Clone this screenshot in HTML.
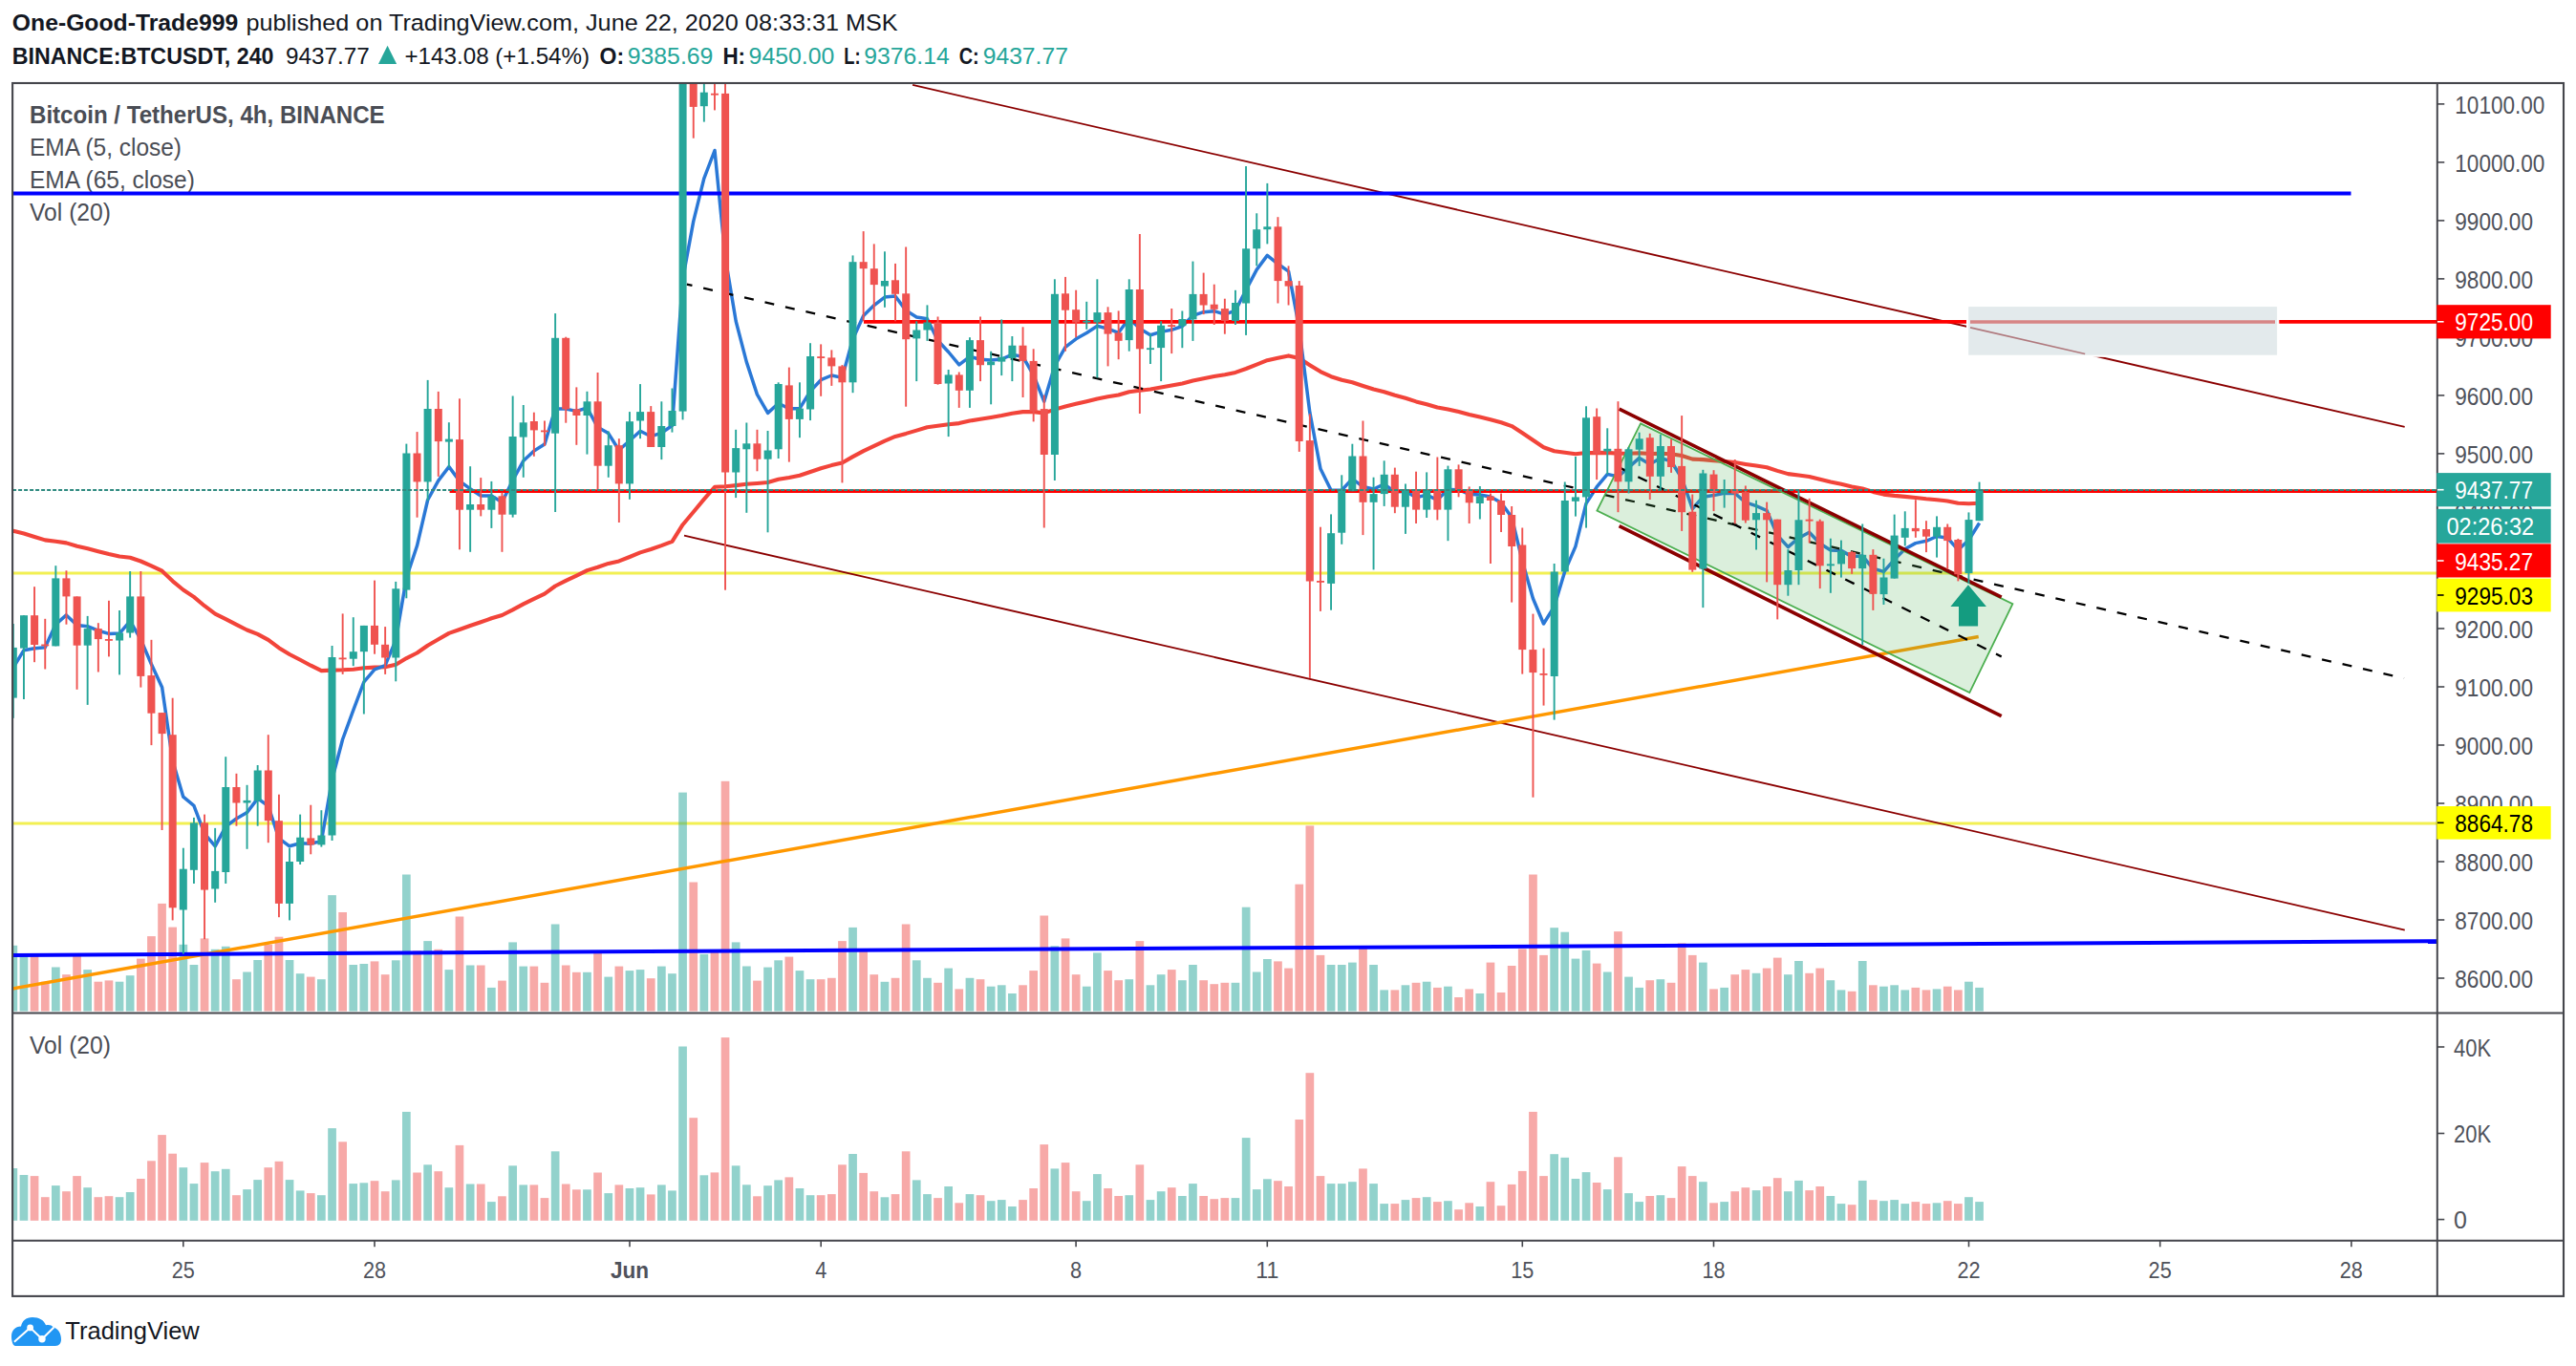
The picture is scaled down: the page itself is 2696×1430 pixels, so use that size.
<!DOCTYPE html>
<html><head><meta charset="utf-8"><title>BTCUSDT chart</title>
<style>html,body{margin:0;padding:0;background:#fff;}svg{display:block;}</style></head><body>
<svg width="2696" height="1430" viewBox="0 0 2696 1430" font-family="'Liberation Sans', Arial, sans-serif">
<rect x="0" y="0" width="2696" height="1430" fill="#ffffff"/>
<defs>
<clipPath id="cm"><rect x="13.85" y="87.75" width="2536.2000000000003" height="972.0"/></clipPath>
<clipPath id="cv"><rect x="13.85" y="1061.25" width="2536.2000000000003" height="236.79999999999995"/></clipPath>
</defs>
<text x="12.8" y="32.1" font-size="24.5" fill="#131722" font-weight="bold" text-anchor="start" textLength="236.4" lengthAdjust="spacingAndGlyphs">One-Good-Trade999</text>
<text x="257.4" y="32.1" font-size="24.5" fill="#131722" font-weight="normal" text-anchor="start" textLength="682.3" lengthAdjust="spacingAndGlyphs">published on TradingView.com, June 22, 2020 08:33:31 MSK</text>
<text x="12.8" y="66.9" font-size="24.5" fill="#131722" font-weight="bold" text-anchor="start" textLength="273.7" lengthAdjust="spacingAndGlyphs">BINANCE:BTCUSDT, 240</text>
<text x="298.9" y="66.9" font-size="24.5" fill="#131722" font-weight="normal" text-anchor="start" textLength="87.8" lengthAdjust="spacingAndGlyphs">9437.77</text>
<polygon points="396,66.9 415.1,66.9 405.55,47.8" fill="#26a69a"/>
<text x="423.5" y="66.9" font-size="24.5" fill="#131722" font-weight="normal" text-anchor="start" textLength="193.6" lengthAdjust="spacingAndGlyphs">+143.08 (+1.54%)</text>
<text x="627.6" y="66.9" font-size="24.5" fill="#131722" font-weight="bold" text-anchor="start" textLength="25.6" lengthAdjust="spacingAndGlyphs">O:</text>
<text x="656.7" y="66.9" font-size="24.5" fill="#26a69a" font-weight="normal" text-anchor="start" textLength="89.7" lengthAdjust="spacingAndGlyphs">9385.69</text>
<text x="756.4" y="66.9" font-size="24.5" fill="#131722" font-weight="bold" text-anchor="start" textLength="23.7" lengthAdjust="spacingAndGlyphs">H:</text>
<text x="783.6" y="66.9" font-size="24.5" fill="#26a69a" font-weight="normal" text-anchor="start" textLength="89.7" lengthAdjust="spacingAndGlyphs">9450.00</text>
<text x="883.3" y="66.9" font-size="24.5" fill="#131722" font-weight="bold" text-anchor="start" textLength="17.3" lengthAdjust="spacingAndGlyphs">L:</text>
<text x="904.3" y="66.9" font-size="24.5" fill="#26a69a" font-weight="normal" text-anchor="start" textLength="89.4" lengthAdjust="spacingAndGlyphs">9376.14</text>
<text x="1003.7" y="66.9" font-size="24.5" fill="#131722" font-weight="bold" text-anchor="start" textLength="21.0" lengthAdjust="spacingAndGlyphs">C:</text>
<text x="1028.7" y="66.9" font-size="24.5" fill="#26a69a" font-weight="normal" text-anchor="start" textLength="89.2" lengthAdjust="spacingAndGlyphs">9437.77</text>
<g clip-path="url(#cm)">
<text x="31.0" y="129.1" font-size="25.5" fill="#4a4d55" font-weight="bold" text-anchor="start" textLength="371.7" lengthAdjust="spacingAndGlyphs">Bitcoin / TetherUS, 4h, BINANCE</text>
<text x="31.0" y="162.9" font-size="25.5" fill="#4a4d55" font-weight="normal" text-anchor="start" textLength="159.0" lengthAdjust="spacingAndGlyphs">EMA (5, close)</text>
<text x="31.0" y="196.8" font-size="25.5" fill="#4a4d55" font-weight="normal" text-anchor="start" textLength="172.8" lengthAdjust="spacingAndGlyphs">EMA (65, close)</text>
<text x="31.0" y="230.6" font-size="25.5" fill="#4a4d55" font-weight="normal" text-anchor="start" textLength="85.0" lengthAdjust="spacingAndGlyphs">Vol (20)</text>
<line x1="13.1" y1="600" x2="2550.8" y2="600" stroke="#f2f052" stroke-width="3"/>
<line x1="13.1" y1="862" x2="2550.8" y2="862" stroke="#f2f052" stroke-width="3"/>
<rect x="9.5" y="989.8" width="8.7" height="68.8" fill="rgba(38,166,154,0.5)"/>
<rect x="20.6" y="998.6" width="8.7" height="60.0" fill="rgba(38,166,154,0.5)"/>
<rect x="31.7" y="999.9" width="8.7" height="58.7" fill="rgba(239,83,80,0.5)"/>
<rect x="42.9" y="1027.7" width="8.7" height="30.9" fill="rgba(239,83,80,0.5)"/>
<rect x="54.0" y="1012.5" width="8.7" height="46.1" fill="rgba(38,166,154,0.5)"/>
<rect x="65.1" y="1020.2" width="8.7" height="38.4" fill="rgba(239,83,80,0.5)"/>
<rect x="76.2" y="999.9" width="8.7" height="58.7" fill="rgba(239,83,80,0.5)"/>
<rect x="87.3" y="1015.1" width="8.7" height="43.5" fill="rgba(38,166,154,0.5)"/>
<rect x="98.5" y="1027.7" width="8.7" height="30.9" fill="rgba(239,83,80,0.5)"/>
<rect x="109.6" y="1026.4" width="8.7" height="32.2" fill="rgba(239,83,80,0.5)"/>
<rect x="120.7" y="1027.7" width="8.7" height="30.9" fill="rgba(38,166,154,0.5)"/>
<rect x="131.8" y="1021.2" width="8.7" height="37.4" fill="rgba(38,166,154,0.5)"/>
<rect x="143.0" y="1003.6" width="8.7" height="55.0" fill="rgba(239,83,80,0.5)"/>
<rect x="154.1" y="980.1" width="8.7" height="78.5" fill="rgba(239,83,80,0.5)"/>
<rect x="165.2" y="945.9" width="8.7" height="112.7" fill="rgba(239,83,80,0.5)"/>
<rect x="176.3" y="970.6" width="8.7" height="88.0" fill="rgba(239,83,80,0.5)"/>
<rect x="187.5" y="988.8" width="8.7" height="69.8" fill="rgba(38,166,154,0.5)"/>
<rect x="198.6" y="1010.0" width="8.7" height="48.6" fill="rgba(38,166,154,0.5)"/>
<rect x="209.7" y="982.4" width="8.7" height="76.2" fill="rgba(239,83,80,0.5)"/>
<rect x="220.8" y="993.8" width="8.7" height="64.8" fill="rgba(38,166,154,0.5)"/>
<rect x="231.9" y="990.8" width="8.7" height="67.8" fill="rgba(38,166,154,0.5)"/>
<rect x="243.1" y="1025.2" width="8.7" height="33.4" fill="rgba(239,83,80,0.5)"/>
<rect x="254.2" y="1017.5" width="8.7" height="41.1" fill="rgba(38,166,154,0.5)"/>
<rect x="265.3" y="1005.0" width="8.7" height="53.6" fill="rgba(38,166,154,0.5)"/>
<rect x="276.4" y="988.8" width="8.7" height="69.8" fill="rgba(239,83,80,0.5)"/>
<rect x="287.6" y="980.7" width="8.7" height="77.9" fill="rgba(239,83,80,0.5)"/>
<rect x="298.7" y="1005.0" width="8.7" height="53.6" fill="rgba(38,166,154,0.5)"/>
<rect x="309.8" y="1019.2" width="8.7" height="39.4" fill="rgba(38,166,154,0.5)"/>
<rect x="320.9" y="1022.6" width="8.7" height="36.0" fill="rgba(239,83,80,0.5)"/>
<rect x="332.0" y="1025.2" width="8.7" height="33.4" fill="rgba(38,166,154,0.5)"/>
<rect x="343.2" y="937.1" width="8.7" height="121.5" fill="rgba(38,166,154,0.5)"/>
<rect x="354.3" y="955.0" width="8.7" height="103.6" fill="rgba(239,83,80,0.5)"/>
<rect x="365.4" y="1010.0" width="8.7" height="48.6" fill="rgba(38,166,154,0.5)"/>
<rect x="376.5" y="1009.0" width="8.7" height="49.6" fill="rgba(38,166,154,0.5)"/>
<rect x="387.7" y="1006.4" width="8.7" height="52.2" fill="rgba(239,83,80,0.5)"/>
<rect x="398.8" y="1020.2" width="8.7" height="38.4" fill="rgba(239,83,80,0.5)"/>
<rect x="409.9" y="1005.3" width="8.7" height="53.3" fill="rgba(38,166,154,0.5)"/>
<rect x="421.0" y="915.5" width="8.7" height="143.1" fill="rgba(38,166,154,0.5)"/>
<rect x="432.2" y="995.4" width="8.7" height="63.2" fill="rgba(239,83,80,0.5)"/>
<rect x="443.3" y="985.1" width="8.7" height="73.5" fill="rgba(38,166,154,0.5)"/>
<rect x="454.4" y="993.8" width="8.7" height="64.8" fill="rgba(239,83,80,0.5)"/>
<rect x="465.5" y="1015.1" width="8.7" height="43.5" fill="rgba(38,166,154,0.5)"/>
<rect x="476.6" y="959.5" width="8.7" height="99.1" fill="rgba(239,83,80,0.5)"/>
<rect x="487.8" y="1010.5" width="8.7" height="48.1" fill="rgba(38,166,154,0.5)"/>
<rect x="498.9" y="1010.5" width="8.7" height="48.1" fill="rgba(239,83,80,0.5)"/>
<rect x="510.0" y="1033.9" width="8.7" height="24.7" fill="rgba(38,166,154,0.5)"/>
<rect x="521.1" y="1026.6" width="8.7" height="32.0" fill="rgba(239,83,80,0.5)"/>
<rect x="532.3" y="986.4" width="8.7" height="72.2" fill="rgba(38,166,154,0.5)"/>
<rect x="543.4" y="1011.6" width="8.7" height="47.0" fill="rgba(38,166,154,0.5)"/>
<rect x="554.5" y="1011.6" width="8.7" height="47.0" fill="rgba(239,83,80,0.5)"/>
<rect x="565.6" y="1028.8" width="8.7" height="29.8" fill="rgba(239,83,80,0.5)"/>
<rect x="576.8" y="967.5" width="8.7" height="91.1" fill="rgba(38,166,154,0.5)"/>
<rect x="587.9" y="1010.5" width="8.7" height="48.1" fill="rgba(239,83,80,0.5)"/>
<rect x="599.0" y="1017.8" width="8.7" height="40.8" fill="rgba(239,83,80,0.5)"/>
<rect x="610.1" y="1017.8" width="8.7" height="40.8" fill="rgba(38,166,154,0.5)"/>
<rect x="621.2" y="995.4" width="8.7" height="63.2" fill="rgba(239,83,80,0.5)"/>
<rect x="632.4" y="1022.6" width="8.7" height="36.0" fill="rgba(38,166,154,0.5)"/>
<rect x="643.5" y="1011.6" width="8.7" height="47.0" fill="rgba(239,83,80,0.5)"/>
<rect x="654.6" y="1016.1" width="8.7" height="42.5" fill="rgba(38,166,154,0.5)"/>
<rect x="665.7" y="1015.1" width="8.7" height="43.5" fill="rgba(38,166,154,0.5)"/>
<rect x="676.9" y="1024.2" width="8.7" height="34.4" fill="rgba(239,83,80,0.5)"/>
<rect x="688.0" y="1011.6" width="8.7" height="47.0" fill="rgba(38,166,154,0.5)"/>
<rect x="699.1" y="1019.2" width="8.7" height="39.4" fill="rgba(38,166,154,0.5)"/>
<rect x="710.2" y="829.6" width="8.7" height="229.0" fill="rgba(38,166,154,0.5)"/>
<rect x="721.4" y="923.5" width="8.7" height="135.1" fill="rgba(239,83,80,0.5)"/>
<rect x="732.5" y="998.9" width="8.7" height="59.7" fill="rgba(38,166,154,0.5)"/>
<rect x="743.6" y="995.3" width="8.7" height="63.3" fill="rgba(239,83,80,0.5)"/>
<rect x="754.7" y="817.8" width="8.7" height="240.8" fill="rgba(239,83,80,0.5)"/>
<rect x="765.8" y="986.4" width="8.7" height="72.2" fill="rgba(38,166,154,0.5)"/>
<rect x="777.0" y="1011.5" width="8.7" height="47.1" fill="rgba(38,166,154,0.5)"/>
<rect x="788.1" y="1026.6" width="8.7" height="32.0" fill="rgba(239,83,80,0.5)"/>
<rect x="799.2" y="1012.6" width="8.7" height="46.0" fill="rgba(38,166,154,0.5)"/>
<rect x="810.3" y="1005.3" width="8.7" height="53.3" fill="rgba(38,166,154,0.5)"/>
<rect x="821.5" y="1001.6" width="8.7" height="57.0" fill="rgba(239,83,80,0.5)"/>
<rect x="832.6" y="1016.1" width="8.7" height="42.5" fill="rgba(38,166,154,0.5)"/>
<rect x="843.7" y="1025.2" width="8.7" height="33.4" fill="rgba(38,166,154,0.5)"/>
<rect x="854.8" y="1025.2" width="8.7" height="33.4" fill="rgba(239,83,80,0.5)"/>
<rect x="866.0" y="1023.8" width="8.7" height="34.8" fill="rgba(239,83,80,0.5)"/>
<rect x="877.1" y="985.1" width="8.7" height="73.5" fill="rgba(239,83,80,0.5)"/>
<rect x="888.2" y="970.9" width="8.7" height="87.7" fill="rgba(38,166,154,0.5)"/>
<rect x="899.3" y="995.9" width="8.7" height="62.7" fill="rgba(239,83,80,0.5)"/>
<rect x="910.4" y="1020.2" width="8.7" height="38.4" fill="rgba(239,83,80,0.5)"/>
<rect x="921.6" y="1027.8" width="8.7" height="30.8" fill="rgba(38,166,154,0.5)"/>
<rect x="932.7" y="1023.8" width="8.7" height="34.8" fill="rgba(239,83,80,0.5)"/>
<rect x="943.8" y="967.5" width="8.7" height="91.1" fill="rgba(239,83,80,0.5)"/>
<rect x="954.9" y="1005.3" width="8.7" height="53.3" fill="rgba(38,166,154,0.5)"/>
<rect x="966.1" y="1023.8" width="8.7" height="34.8" fill="rgba(38,166,154,0.5)"/>
<rect x="977.2" y="1028.8" width="8.7" height="29.8" fill="rgba(239,83,80,0.5)"/>
<rect x="988.3" y="1013.6" width="8.7" height="45.0" fill="rgba(38,166,154,0.5)"/>
<rect x="999.4" y="1035.4" width="8.7" height="23.2" fill="rgba(239,83,80,0.5)"/>
<rect x="1010.6" y="1023.8" width="8.7" height="34.8" fill="rgba(38,166,154,0.5)"/>
<rect x="1021.7" y="1025.2" width="8.7" height="33.4" fill="rgba(239,83,80,0.5)"/>
<rect x="1032.8" y="1032.7" width="8.7" height="25.9" fill="rgba(38,166,154,0.5)"/>
<rect x="1043.9" y="1031.3" width="8.7" height="27.3" fill="rgba(38,166,154,0.5)"/>
<rect x="1055.0" y="1040.0" width="8.7" height="18.6" fill="rgba(38,166,154,0.5)"/>
<rect x="1066.2" y="1031.3" width="8.7" height="27.3" fill="rgba(239,83,80,0.5)"/>
<rect x="1077.3" y="1016.1" width="8.7" height="42.5" fill="rgba(239,83,80,0.5)"/>
<rect x="1088.4" y="958.5" width="8.7" height="100.1" fill="rgba(239,83,80,0.5)"/>
<rect x="1099.5" y="990.3" width="8.7" height="68.3" fill="rgba(38,166,154,0.5)"/>
<rect x="1110.7" y="982.4" width="8.7" height="76.2" fill="rgba(239,83,80,0.5)"/>
<rect x="1121.8" y="1020.2" width="8.7" height="38.4" fill="rgba(239,83,80,0.5)"/>
<rect x="1132.9" y="1032.7" width="8.7" height="25.9" fill="rgba(38,166,154,0.5)"/>
<rect x="1144.0" y="997.4" width="8.7" height="61.2" fill="rgba(38,166,154,0.5)"/>
<rect x="1155.2" y="1016.1" width="8.7" height="42.5" fill="rgba(239,83,80,0.5)"/>
<rect x="1166.3" y="1026.2" width="8.7" height="32.4" fill="rgba(239,83,80,0.5)"/>
<rect x="1177.4" y="1025.2" width="8.7" height="33.4" fill="rgba(38,166,154,0.5)"/>
<rect x="1188.5" y="985.1" width="8.7" height="73.5" fill="rgba(239,83,80,0.5)"/>
<rect x="1199.6" y="1031.3" width="8.7" height="27.3" fill="rgba(38,166,154,0.5)"/>
<rect x="1210.8" y="1020.2" width="8.7" height="38.4" fill="rgba(38,166,154,0.5)"/>
<rect x="1221.9" y="1015.1" width="8.7" height="43.5" fill="rgba(239,83,80,0.5)"/>
<rect x="1233.0" y="1026.2" width="8.7" height="32.4" fill="rgba(38,166,154,0.5)"/>
<rect x="1244.1" y="1010.0" width="8.7" height="48.6" fill="rgba(38,166,154,0.5)"/>
<rect x="1255.3" y="1026.2" width="8.7" height="32.4" fill="rgba(239,83,80,0.5)"/>
<rect x="1266.4" y="1030.2" width="8.7" height="28.4" fill="rgba(239,83,80,0.5)"/>
<rect x="1277.5" y="1028.8" width="8.7" height="29.8" fill="rgba(239,83,80,0.5)"/>
<rect x="1288.6" y="1028.8" width="8.7" height="29.8" fill="rgba(38,166,154,0.5)"/>
<rect x="1299.8" y="949.7" width="8.7" height="108.9" fill="rgba(38,166,154,0.5)"/>
<rect x="1310.9" y="1017.5" width="8.7" height="41.1" fill="rgba(38,166,154,0.5)"/>
<rect x="1322.0" y="1004.0" width="8.7" height="54.6" fill="rgba(38,166,154,0.5)"/>
<rect x="1333.1" y="1006.4" width="8.7" height="52.2" fill="rgba(239,83,80,0.5)"/>
<rect x="1344.2" y="1013.6" width="8.7" height="45.0" fill="rgba(239,83,80,0.5)"/>
<rect x="1355.4" y="925.7" width="8.7" height="132.9" fill="rgba(239,83,80,0.5)"/>
<rect x="1366.5" y="864.4" width="8.7" height="194.2" fill="rgba(239,83,80,0.5)"/>
<rect x="1377.6" y="999.9" width="8.7" height="58.7" fill="rgba(239,83,80,0.5)"/>
<rect x="1388.7" y="1010.0" width="8.7" height="48.6" fill="rgba(38,166,154,0.5)"/>
<rect x="1399.9" y="1010.0" width="8.7" height="48.6" fill="rgba(38,166,154,0.5)"/>
<rect x="1411.0" y="1007.6" width="8.7" height="51.0" fill="rgba(38,166,154,0.5)"/>
<rect x="1422.1" y="990.3" width="8.7" height="68.3" fill="rgba(239,83,80,0.5)"/>
<rect x="1433.2" y="1010.0" width="8.7" height="48.6" fill="rgba(38,166,154,0.5)"/>
<rect x="1444.3" y="1036.4" width="8.7" height="22.2" fill="rgba(38,166,154,0.5)"/>
<rect x="1455.5" y="1036.4" width="8.7" height="22.2" fill="rgba(239,83,80,0.5)"/>
<rect x="1466.6" y="1031.3" width="8.7" height="27.3" fill="rgba(38,166,154,0.5)"/>
<rect x="1477.7" y="1028.8" width="8.7" height="29.8" fill="rgba(239,83,80,0.5)"/>
<rect x="1488.8" y="1027.7" width="8.7" height="30.9" fill="rgba(38,166,154,0.5)"/>
<rect x="1500.0" y="1033.9" width="8.7" height="24.7" fill="rgba(239,83,80,0.5)"/>
<rect x="1511.1" y="1032.7" width="8.7" height="25.9" fill="rgba(38,166,154,0.5)"/>
<rect x="1522.2" y="1044.0" width="8.7" height="14.6" fill="rgba(239,83,80,0.5)"/>
<rect x="1533.3" y="1035.4" width="8.7" height="23.2" fill="rgba(239,83,80,0.5)"/>
<rect x="1544.5" y="1040.0" width="8.7" height="18.6" fill="rgba(38,166,154,0.5)"/>
<rect x="1555.6" y="1007.6" width="8.7" height="51.0" fill="rgba(239,83,80,0.5)"/>
<rect x="1566.7" y="1039.0" width="8.7" height="19.6" fill="rgba(239,83,80,0.5)"/>
<rect x="1577.8" y="1011.0" width="8.7" height="47.6" fill="rgba(239,83,80,0.5)"/>
<rect x="1588.9" y="993.4" width="8.7" height="65.2" fill="rgba(239,83,80,0.5)"/>
<rect x="1600.1" y="915.5" width="8.7" height="143.1" fill="rgba(239,83,80,0.5)"/>
<rect x="1611.2" y="999.9" width="8.7" height="58.7" fill="rgba(239,83,80,0.5)"/>
<rect x="1622.3" y="971.2" width="8.7" height="87.4" fill="rgba(38,166,154,0.5)"/>
<rect x="1633.4" y="975.7" width="8.7" height="82.9" fill="rgba(38,166,154,0.5)"/>
<rect x="1644.6" y="1003.6" width="8.7" height="55.0" fill="rgba(38,166,154,0.5)"/>
<rect x="1655.7" y="994.9" width="8.7" height="63.7" fill="rgba(38,166,154,0.5)"/>
<rect x="1666.8" y="1008.6" width="8.7" height="50.0" fill="rgba(239,83,80,0.5)"/>
<rect x="1677.9" y="1017.5" width="8.7" height="41.1" fill="rgba(38,166,154,0.5)"/>
<rect x="1689.1" y="975.1" width="8.7" height="83.5" fill="rgba(239,83,80,0.5)"/>
<rect x="1700.2" y="1022.6" width="8.7" height="36.0" fill="rgba(38,166,154,0.5)"/>
<rect x="1711.3" y="1033.9" width="8.7" height="24.7" fill="rgba(38,166,154,0.5)"/>
<rect x="1722.4" y="1026.2" width="8.7" height="32.4" fill="rgba(239,83,80,0.5)"/>
<rect x="1733.5" y="1025.2" width="8.7" height="33.4" fill="rgba(38,166,154,0.5)"/>
<rect x="1744.7" y="1028.8" width="8.7" height="29.8" fill="rgba(239,83,80,0.5)"/>
<rect x="1755.8" y="987.4" width="8.7" height="71.2" fill="rgba(239,83,80,0.5)"/>
<rect x="1766.9" y="999.9" width="8.7" height="58.7" fill="rgba(239,83,80,0.5)"/>
<rect x="1778.0" y="1007.6" width="8.7" height="51.0" fill="rgba(38,166,154,0.5)"/>
<rect x="1789.2" y="1035.4" width="8.7" height="23.2" fill="rgba(239,83,80,0.5)"/>
<rect x="1800.3" y="1033.9" width="8.7" height="24.7" fill="rgba(38,166,154,0.5)"/>
<rect x="1811.4" y="1020.2" width="8.7" height="38.4" fill="rgba(239,83,80,0.5)"/>
<rect x="1822.5" y="1015.1" width="8.7" height="43.5" fill="rgba(239,83,80,0.5)"/>
<rect x="1833.7" y="1018.8" width="8.7" height="39.8" fill="rgba(38,166,154,0.5)"/>
<rect x="1844.8" y="1013.6" width="8.7" height="45.0" fill="rgba(239,83,80,0.5)"/>
<rect x="1855.9" y="1002.6" width="8.7" height="56.0" fill="rgba(239,83,80,0.5)"/>
<rect x="1867.0" y="1020.2" width="8.7" height="38.4" fill="rgba(38,166,154,0.5)"/>
<rect x="1878.1" y="1006.0" width="8.7" height="52.6" fill="rgba(38,166,154,0.5)"/>
<rect x="1889.3" y="1018.8" width="8.7" height="39.8" fill="rgba(239,83,80,0.5)"/>
<rect x="1900.4" y="1013.6" width="8.7" height="45.0" fill="rgba(239,83,80,0.5)"/>
<rect x="1911.5" y="1026.2" width="8.7" height="32.4" fill="rgba(38,166,154,0.5)"/>
<rect x="1922.6" y="1036.4" width="8.7" height="22.2" fill="rgba(38,166,154,0.5)"/>
<rect x="1933.8" y="1037.8" width="8.7" height="20.8" fill="rgba(239,83,80,0.5)"/>
<rect x="1944.9" y="1006.0" width="8.7" height="52.6" fill="rgba(38,166,154,0.5)"/>
<rect x="1956.0" y="1031.3" width="8.7" height="27.3" fill="rgba(239,83,80,0.5)"/>
<rect x="1967.1" y="1032.7" width="8.7" height="25.9" fill="rgba(38,166,154,0.5)"/>
<rect x="1978.3" y="1031.3" width="8.7" height="27.3" fill="rgba(38,166,154,0.5)"/>
<rect x="1989.4" y="1036.4" width="8.7" height="22.2" fill="rgba(38,166,154,0.5)"/>
<rect x="2000.5" y="1033.9" width="8.7" height="24.7" fill="rgba(239,83,80,0.5)"/>
<rect x="2011.6" y="1036.4" width="8.7" height="22.2" fill="rgba(239,83,80,0.5)"/>
<rect x="2022.7" y="1035.4" width="8.7" height="23.2" fill="rgba(38,166,154,0.5)"/>
<rect x="2033.9" y="1032.7" width="8.7" height="25.9" fill="rgba(239,83,80,0.5)"/>
<rect x="2045.0" y="1036.4" width="8.7" height="22.2" fill="rgba(239,83,80,0.5)"/>
<rect x="2056.1" y="1027.7" width="8.7" height="30.9" fill="rgba(38,166,154,0.5)"/>
<rect x="2067.2" y="1033.9" width="8.7" height="24.7" fill="rgba(38,166,154,0.5)"/>
<polyline points="13.8,555.8 25.0,558.5 36.1,562.0 47.2,565.4 58.3,566.7 69.4,568.4 80.6,571.7 91.7,574.3 102.8,577.2 113.9,580.0 125.1,582.5 136.2,583.7 147.3,587.5 158.4,592.3 169.6,597.7 180.7,608.3 191.8,617.5 202.9,624.9 214.0,634.2 225.2,642.6 236.3,648.1 247.4,653.9 258.5,659.5 269.7,663.9 280.8,669.9 291.9,678.2 303.0,685.0 314.2,690.8 325.3,696.7 336.4,702.1 347.5,701.6 358.6,701.3 369.8,700.7 380.9,699.3 392.0,698.6 403.1,698.3 414.3,695.8 425.4,689.1 436.5,683.5 447.6,675.7 458.8,669.3 469.9,662.9 481.0,659.0 492.1,655.0 503.2,651.3 514.4,647.3 525.5,644.0 536.6,638.4 547.7,632.4 558.9,626.9 570.0,621.6 581.1,613.5 592.2,607.9 603.4,602.6 614.5,597.1 625.6,593.8 636.7,589.9 647.8,587.4 659.0,583.0 670.1,578.4 681.2,575.0 692.3,571.1 703.5,566.8 714.6,549.2 725.7,536.0 736.8,522.6 748.0,509.8 759.1,509.3 770.2,508.1 781.3,506.8 792.4,506.0 803.6,505.0 814.7,501.8 825.8,499.9 836.9,497.7 848.1,494.0 859.2,490.3 870.3,487.1 881.4,484.5 892.5,478.1 903.7,472.1 914.8,466.8 925.9,461.6 937.0,456.9 948.2,453.9 959.3,450.6 970.4,447.2 981.5,445.8 992.7,444.2 1003.8,443.1 1014.9,440.5 1026.0,438.7 1037.1,436.9 1048.3,435.0 1059.4,432.7 1070.5,431.1 1081.6,431.1 1092.8,432.4 1103.9,428.6 1115.0,425.5 1126.1,422.8 1137.3,420.2 1148.4,417.4 1159.5,415.3 1170.6,413.5 1181.7,410.2 1192.9,408.8 1204.0,407.5 1215.1,405.5 1226.2,403.5 1237.4,401.4 1248.5,398.6 1259.6,396.2 1270.7,394.0 1281.9,392.2 1293.0,389.9 1304.1,386.0 1315.2,381.6 1326.3,377.2 1337.5,374.7 1348.6,372.4 1359.7,375.1 1370.8,382.2 1382.0,389.1 1393.1,394.2 1404.2,397.8 1415.3,400.2 1426.5,404.0 1437.6,407.5 1448.7,410.2 1459.8,413.8 1470.9,416.8 1482.1,420.4 1493.2,423.2 1504.3,426.5 1515.4,428.5 1526.6,431.0 1537.7,433.9 1548.8,436.5 1559.9,439.2 1571.1,442.2 1582.2,446.1 1593.3,453.2 1604.4,460.8 1615.5,468.3 1626.7,472.2 1637.8,473.8 1648.9,475.2 1660.0,474.0 1671.2,474.1 1682.3,473.9 1693.4,474.8 1704.5,474.7 1715.7,474.2 1726.8,475.0 1737.9,474.7 1749.0,475.2 1760.1,477.0 1771.3,480.6 1782.4,481.1 1793.5,482.1 1804.6,483.0 1815.8,484.1 1826.9,485.9 1838.0,487.5 1849.1,489.2 1860.2,492.9 1871.4,496.1 1882.5,497.5 1893.6,499.0 1904.7,501.8 1915.9,504.5 1927.0,506.7 1938.1,509.4 1949.2,511.5 1960.4,514.9 1971.5,517.6 1982.6,518.9 1993.7,519.9 2004.8,521.0 2016.0,522.3 2027.1,523.2 2038.2,524.5 2049.3,526.8 2060.5,527.3 2071.6,526.8" fill="none" stroke="#f2443a" stroke-width="4.1" stroke-linejoin="round"/>
<polyline points="13.8,699.0 25.0,680.7 36.1,678.8 47.2,677.7 58.3,653.6 69.4,643.9 80.6,654.5 91.7,655.7 102.8,660.2 113.9,663.4 125.1,663.1 136.2,650.2 147.3,669.4 158.4,695.2 169.6,719.5 180.7,796.4 191.8,834.2 202.9,843.3 214.0,872.7 225.2,885.8 236.3,865.2 247.4,857.0 258.5,850.6 269.7,835.9 280.8,843.7 291.9,877.7 303.0,885.8 314.2,882.8 325.3,883.3 336.4,880.4 347.5,816.3 358.6,774.0 369.8,743.4 380.9,713.9 392.0,700.9 403.1,696.7 414.3,669.9 425.4,604.8 436.5,571.3 447.6,523.5 458.8,503.1 469.9,488.6 481.0,503.6 492.1,511.7 503.2,519.1 514.4,519.1 525.5,525.7 536.6,502.8 547.7,482.6 558.9,471.9 570.0,465.1 581.1,428.0 592.2,428.1 603.4,430.4 614.5,427.0 625.6,447.3 636.7,453.6 647.8,471.2 659.0,461.2 670.1,451.2 681.2,456.8 692.3,453.2 703.5,445.5 714.6,292.0 725.7,231.9 736.8,186.9 748.0,157.5 759.1,269.8 770.2,336.3 781.3,378.9 792.4,412.9 803.6,432.4 814.7,422.3 825.8,427.8 836.9,427.7 848.1,409.5 859.2,397.7 870.3,393.0 881.4,395.4 892.5,355.0 903.7,330.4 914.8,319.6 925.9,311.1 937.0,310.0 948.2,325.1 959.3,331.9 970.4,333.7 981.5,356.5 992.7,368.5 1003.8,381.9 1014.9,373.3 1026.0,376.3 1037.1,377.0 1048.3,376.0 1059.4,371.2 1070.5,373.4 1081.6,392.5 1092.8,420.3 1103.9,382.8 1115.0,363.4 1126.1,354.8 1137.3,348.5 1148.4,341.3 1159.5,344.1 1170.6,348.3 1181.7,333.2 1192.9,343.9 1204.0,350.7 1215.1,347.4 1226.2,345.3 1237.4,341.5 1248.5,330.3 1259.6,326.7 1270.7,325.7 1281.9,329.1 1293.0,325.1 1304.1,303.5 1315.2,282.4 1326.3,267.4 1337.5,276.3 1348.6,284.1 1359.7,343.4 1370.8,431.7 1382.0,490.8 1393.1,513.3 1404.2,513.2 1415.3,501.3 1426.5,509.5 1437.6,512.0 1448.7,506.9 1459.8,514.9 1470.9,514.2 1482.1,520.7 1493.2,518.1 1504.3,523.3 1515.4,512.6 1526.6,512.7 1537.7,517.3 1548.8,518.0 1559.9,520.0 1571.1,526.3 1582.2,541.6 1593.3,587.7 1604.4,626.5 1615.5,653.0 1626.7,634.8 1637.8,597.9 1648.9,572.1 1660.0,527.1 1671.2,509.7 1682.3,496.4 1693.4,499.0 1704.5,489.4 1715.7,479.4 1726.8,485.9 1737.9,479.6 1749.0,482.7 1760.1,500.5 1771.3,532.6 1782.4,520.2 1793.5,518.6 1804.6,516.4 1815.8,516.5 1826.9,525.9 1838.0,529.6 1849.1,534.5 1860.2,560.4 1871.4,572.6 1882.5,563.2 1893.6,557.3 1904.7,569.0 1915.9,576.1 1927.0,576.4 1938.1,582.6 1949.2,582.0 1960.4,595.3 1971.5,598.4 1982.6,585.8 1993.7,574.8 2004.8,568.6 2016.0,566.3 2027.1,561.5 2038.2,563.0 2049.3,575.7 2060.5,565.2 2071.6,547.5" fill="none" stroke="#2a78d6" stroke-width="3.5" stroke-linejoin="round"/>
<line x1="955.1" y1="88.9" x2="2516.7" y2="446.9" stroke="#8b0000" stroke-width="1.8"/>
<line x1="716" y1="560.7" x2="2516.8" y2="973.6" stroke="#8b0000" stroke-width="1.8"/>
<line x1="718.7" y1="297.6" x2="2516" y2="710" stroke="#000" stroke-width="2.3" stroke-dasharray="10 12" stroke-dashoffset="4.1"/>
<line x1="0" y1="1037.4" x2="2070.7" y2="666.5" stroke="#ff9800" stroke-width="3.5"/>
<line x1="13.1" y1="202.4" x2="2460.5" y2="202.4" stroke="#0000ff" stroke-width="4"/>
<line x1="13.1" y1="999.9" x2="2550.8" y2="985.2" stroke="#0000ff" stroke-width="4"/>
<line x1="904" y1="336.9" x2="2550.8" y2="336.9" stroke="#ff0000" stroke-width="3.9"/>
<line x1="470.6" y1="514.2" x2="2550.8" y2="514.2" stroke="#ff0000" stroke-width="3.7"/>
<polygon points="1717,443.4 2106.4,632.2 2061.3,725.1 1671.4,534.6" fill="rgba(76,175,80,0.2)" stroke="#4caf50" stroke-width="1.8"/>
<line x1="1694.6" y1="428.2" x2="2094.7" y2="625.2" stroke="#8b0000" stroke-width="3.7"/>
<line x1="1694.6" y1="550.6" x2="2094.7" y2="749.7" stroke="#8b0000" stroke-width="3.7"/>
<line x1="1694.6" y1="489.4" x2="2094.7" y2="687.4" stroke="#000" stroke-width="2.3" stroke-dasharray="10.5 11.5"/>
<rect x="2058" y="319" width="327.3" height="54.8" fill="#ffffff"/>
<rect x="2060.2" y="321.1" width="322.9" height="50.6" fill="#e3eaec"/>
<line x1="2062" y1="336.9" x2="2381" y2="336.9" stroke="#d78585" stroke-width="3.5"/>
<line x1="2062" y1="342.9" x2="2182.2" y2="370.5" stroke="#b07a7e" stroke-width="1.6"/>
<polygon points="2059.9,612.3 2078.9,635.1 2070.1,635.1 2070.1,655.6 2050,655.6 2050,635.1 2041.4,635.1" fill="#149c80"/>
<rect x="12.9" y="653.0" width="1.9" height="98.8" fill="#26a69a"/>
<rect x="9.8" y="677.9" width="8" height="52.7" fill="#26a69a"/>
<rect x="24.0" y="644.2" width="1.9" height="87.8" fill="#26a69a"/>
<rect x="21.0" y="644.2" width="8" height="34.4" fill="#26a69a"/>
<rect x="35.1" y="614.2" width="1.9" height="79.0" fill="#ef5350"/>
<rect x="32.1" y="644.2" width="8" height="30.8" fill="#ef5350"/>
<rect x="46.3" y="647.8" width="1.9" height="52.7" fill="#ef5350"/>
<rect x="43.2" y="674.5" width="8" height="1.8" fill="#ef5350"/>
<rect x="57.4" y="592.2" width="1.9" height="84.2" fill="#26a69a"/>
<rect x="54.3" y="605.4" width="8" height="71.0" fill="#26a69a"/>
<rect x="68.5" y="597.3" width="1.9" height="56.4" fill="#ef5350"/>
<rect x="65.4" y="605.4" width="8" height="19.0" fill="#ef5350"/>
<rect x="79.6" y="624.4" width="1.9" height="97.4" fill="#ef5350"/>
<rect x="76.6" y="624.4" width="8" height="51.3" fill="#ef5350"/>
<rect x="90.7" y="644.9" width="1.9" height="93.0" fill="#26a69a"/>
<rect x="87.7" y="658.1" width="8" height="17.6" fill="#26a69a"/>
<rect x="101.9" y="652.2" width="1.9" height="51.3" fill="#ef5350"/>
<rect x="98.8" y="658.1" width="8" height="11.0" fill="#ef5350"/>
<rect x="113.0" y="628.8" width="1.9" height="58.6" fill="#ef5350"/>
<rect x="109.9" y="669.0" width="8" height="1.8" fill="#ef5350"/>
<rect x="124.1" y="639.0" width="1.9" height="67.4" fill="#26a69a"/>
<rect x="121.1" y="662.5" width="8" height="8.0" fill="#26a69a"/>
<rect x="135.2" y="598.0" width="1.9" height="69.6" fill="#26a69a"/>
<rect x="132.2" y="624.4" width="8" height="38.1" fill="#26a69a"/>
<rect x="146.4" y="598.0" width="1.9" height="121.6" fill="#ef5350"/>
<rect x="143.3" y="624.4" width="8" height="83.5" fill="#ef5350"/>
<rect x="157.5" y="669.8" width="1.9" height="110.3" fill="#ef5350"/>
<rect x="154.4" y="707.1" width="8" height="39.6" fill="#ef5350"/>
<rect x="168.6" y="746.1" width="1.9" height="122.9" fill="#ef5350"/>
<rect x="165.6" y="746.1" width="8" height="22.0" fill="#ef5350"/>
<rect x="179.7" y="730.7" width="1.9" height="232.7" fill="#ef5350"/>
<rect x="176.7" y="769.2" width="8" height="181.1" fill="#ef5350"/>
<rect x="190.9" y="887.7" width="1.9" height="110.8" fill="#26a69a"/>
<rect x="187.8" y="909.7" width="8" height="42.8" fill="#26a69a"/>
<rect x="202.0" y="855.9" width="1.9" height="69.1" fill="#26a69a"/>
<rect x="198.9" y="861.4" width="8" height="49.4" fill="#26a69a"/>
<rect x="213.1" y="852.6" width="1.9" height="130.6" fill="#ef5350"/>
<rect x="210.0" y="861.4" width="8" height="70.2" fill="#ef5350"/>
<rect x="224.2" y="866.9" width="1.9" height="77.9" fill="#26a69a"/>
<rect x="221.2" y="911.9" width="8" height="18.6" fill="#26a69a"/>
<rect x="235.3" y="792.2" width="1.9" height="132.8" fill="#26a69a"/>
<rect x="232.3" y="824.0" width="8" height="89.0" fill="#26a69a"/>
<rect x="246.5" y="809.8" width="1.9" height="54.9" fill="#ef5350"/>
<rect x="243.4" y="824.0" width="8" height="16.5" fill="#ef5350"/>
<rect x="257.6" y="821.8" width="1.9" height="67.0" fill="#26a69a"/>
<rect x="254.5" y="837.9" width="8" height="2.6" fill="#26a69a"/>
<rect x="268.7" y="801.0" width="1.9" height="63.7" fill="#26a69a"/>
<rect x="265.7" y="806.5" width="8" height="31.8" fill="#26a69a"/>
<rect x="279.8" y="769.2" width="1.9" height="113.0" fill="#ef5350"/>
<rect x="276.8" y="806.5" width="8" height="52.7" fill="#ef5350"/>
<rect x="291.0" y="831.7" width="1.9" height="128.5" fill="#ef5350"/>
<rect x="287.9" y="859.2" width="8" height="86.7" fill="#ef5350"/>
<rect x="302.1" y="887.7" width="1.9" height="75.7" fill="#26a69a"/>
<rect x="299.0" y="902.0" width="8" height="43.9" fill="#26a69a"/>
<rect x="313.2" y="852.6" width="1.9" height="52.4" fill="#26a69a"/>
<rect x="310.2" y="876.7" width="8" height="25.3" fill="#26a69a"/>
<rect x="324.3" y="842.7" width="1.9" height="51.6" fill="#ef5350"/>
<rect x="321.3" y="877.4" width="8" height="7.0" fill="#ef5350"/>
<rect x="335.4" y="848.2" width="1.9" height="38.4" fill="#26a69a"/>
<rect x="332.4" y="874.5" width="8" height="9.9" fill="#26a69a"/>
<rect x="346.6" y="676.0" width="1.9" height="204.0" fill="#26a69a"/>
<rect x="343.5" y="688.0" width="8" height="186.5" fill="#26a69a"/>
<rect x="357.7" y="642.4" width="1.9" height="63.5" fill="#ef5350"/>
<rect x="354.6" y="688.5" width="8" height="1.8" fill="#ef5350"/>
<rect x="368.8" y="646.2" width="1.9" height="51.0" fill="#26a69a"/>
<rect x="365.8" y="682.2" width="8" height="7.5" fill="#26a69a"/>
<rect x="379.9" y="654.9" width="1.9" height="92.6" fill="#26a69a"/>
<rect x="376.9" y="654.9" width="8" height="27.3" fill="#26a69a"/>
<rect x="391.1" y="607.6" width="1.9" height="77.1" fill="#ef5350"/>
<rect x="388.0" y="654.9" width="8" height="19.9" fill="#ef5350"/>
<rect x="402.2" y="656.1" width="1.9" height="49.8" fill="#ef5350"/>
<rect x="399.1" y="674.8" width="8" height="13.7" fill="#ef5350"/>
<rect x="413.3" y="608.9" width="1.9" height="104.4" fill="#26a69a"/>
<rect x="410.3" y="616.3" width="8" height="72.2" fill="#26a69a"/>
<rect x="424.4" y="464.6" width="1.9" height="161.7" fill="#26a69a"/>
<rect x="421.4" y="474.5" width="8" height="143.1" fill="#26a69a"/>
<rect x="435.6" y="452.1" width="1.9" height="89.6" fill="#ef5350"/>
<rect x="432.5" y="474.5" width="8" height="29.9" fill="#ef5350"/>
<rect x="446.7" y="397.9" width="1.9" height="126.4" fill="#26a69a"/>
<rect x="443.6" y="428.0" width="8" height="76.4" fill="#26a69a"/>
<rect x="457.8" y="409.9" width="1.9" height="89.0" fill="#ef5350"/>
<rect x="454.8" y="428.0" width="8" height="34.1" fill="#ef5350"/>
<rect x="468.9" y="442.2" width="1.9" height="47.3" fill="#26a69a"/>
<rect x="465.9" y="459.6" width="8" height="3.0" fill="#26a69a"/>
<rect x="480.0" y="417.3" width="1.9" height="158.0" fill="#ef5350"/>
<rect x="477.0" y="460.1" width="8" height="73.6" fill="#ef5350"/>
<rect x="491.2" y="488.2" width="1.9" height="89.6" fill="#26a69a"/>
<rect x="488.1" y="528.0" width="8" height="5.7" fill="#26a69a"/>
<rect x="502.3" y="500.1" width="1.9" height="40.3" fill="#ef5350"/>
<rect x="499.2" y="528.0" width="8" height="5.7" fill="#ef5350"/>
<rect x="513.4" y="503.9" width="1.9" height="49.0" fill="#26a69a"/>
<rect x="510.4" y="519.3" width="8" height="14.4" fill="#26a69a"/>
<rect x="524.5" y="515.6" width="1.9" height="62.2" fill="#ef5350"/>
<rect x="521.5" y="519.3" width="8" height="19.4" fill="#ef5350"/>
<rect x="535.7" y="414.5" width="1.9" height="127.1" fill="#26a69a"/>
<rect x="532.6" y="457.0" width="8" height="81.7" fill="#26a69a"/>
<rect x="546.8" y="424.0" width="1.9" height="75.8" fill="#26a69a"/>
<rect x="543.7" y="442.3" width="8" height="15.3" fill="#26a69a"/>
<rect x="557.9" y="431.7" width="1.9" height="46.1" fill="#ef5350"/>
<rect x="554.9" y="441.0" width="8" height="9.4" fill="#ef5350"/>
<rect x="569.0" y="440.5" width="1.9" height="26.4" fill="#ef5350"/>
<rect x="566.0" y="450.5" width="8" height="1.8" fill="#ef5350"/>
<rect x="580.2" y="328.1" width="1.9" height="207.9" fill="#26a69a"/>
<rect x="577.1" y="353.8" width="8" height="99.9" fill="#26a69a"/>
<rect x="591.3" y="352.7" width="1.9" height="90.0" fill="#ef5350"/>
<rect x="588.2" y="353.8" width="8" height="74.6" fill="#ef5350"/>
<rect x="602.4" y="405.4" width="1.9" height="60.4" fill="#ef5350"/>
<rect x="599.4" y="428.4" width="8" height="6.6" fill="#ef5350"/>
<rect x="613.5" y="409.8" width="1.9" height="65.8" fill="#26a69a"/>
<rect x="610.5" y="420.3" width="8" height="14.7" fill="#26a69a"/>
<rect x="624.6" y="390.0" width="1.9" height="123.0" fill="#ef5350"/>
<rect x="621.6" y="420.3" width="8" height="67.4" fill="#ef5350"/>
<rect x="635.8" y="451.5" width="1.9" height="48.3" fill="#26a69a"/>
<rect x="632.7" y="466.2" width="8" height="21.5" fill="#26a69a"/>
<rect x="646.9" y="459.2" width="1.9" height="87.8" fill="#ef5350"/>
<rect x="643.8" y="466.2" width="8" height="40.2" fill="#ef5350"/>
<rect x="658.0" y="431.1" width="1.9" height="91.7" fill="#26a69a"/>
<rect x="655.0" y="441.2" width="8" height="65.2" fill="#26a69a"/>
<rect x="669.1" y="402.1" width="1.9" height="57.1" fill="#26a69a"/>
<rect x="666.1" y="431.1" width="8" height="9.4" fill="#26a69a"/>
<rect x="680.3" y="425.1" width="1.9" height="42.9" fill="#ef5350"/>
<rect x="677.2" y="431.1" width="8" height="36.9" fill="#ef5350"/>
<rect x="691.4" y="420.3" width="1.9" height="60.8" fill="#26a69a"/>
<rect x="688.3" y="446.0" width="8" height="22.0" fill="#26a69a"/>
<rect x="702.5" y="406.5" width="1.9" height="46.1" fill="#26a69a"/>
<rect x="699.5" y="430.0" width="8" height="16.0" fill="#26a69a"/>
<rect x="713.6" y="40.0" width="1.9" height="399.4" fill="#26a69a"/>
<rect x="710.6" y="60.0" width="8" height="370.6" fill="#26a69a"/>
<rect x="724.8" y="40.0" width="1.9" height="104.7" fill="#ef5350"/>
<rect x="721.7" y="60.0" width="8" height="51.9" fill="#ef5350"/>
<rect x="735.9" y="60.0" width="1.9" height="67.6" fill="#26a69a"/>
<rect x="732.8" y="96.7" width="8" height="14.5" fill="#26a69a"/>
<rect x="747.0" y="60.0" width="1.9" height="55.4" fill="#ef5350"/>
<rect x="744.0" y="97.8" width="8" height="1.8" fill="#ef5350"/>
<rect x="758.1" y="60.0" width="1.9" height="557.7" fill="#ef5350"/>
<rect x="755.1" y="97.9" width="8" height="396.6" fill="#ef5350"/>
<rect x="769.2" y="449.8" width="1.9" height="71.3" fill="#26a69a"/>
<rect x="766.2" y="469.1" width="8" height="25.4" fill="#26a69a"/>
<rect x="780.4" y="442.5" width="1.9" height="94.3" fill="#26a69a"/>
<rect x="777.3" y="464.3" width="8" height="6.0" fill="#26a69a"/>
<rect x="791.5" y="449.8" width="1.9" height="43.5" fill="#ef5350"/>
<rect x="788.4" y="464.3" width="8" height="16.4" fill="#ef5350"/>
<rect x="802.6" y="451.0" width="1.9" height="106.3" fill="#26a69a"/>
<rect x="799.6" y="471.5" width="8" height="9.2" fill="#26a69a"/>
<rect x="813.7" y="400.3" width="1.9" height="79.7" fill="#26a69a"/>
<rect x="810.7" y="402.0" width="8" height="68.3" fill="#26a69a"/>
<rect x="824.9" y="384.6" width="1.9" height="99.0" fill="#ef5350"/>
<rect x="821.8" y="403.4" width="8" height="35.5" fill="#ef5350"/>
<rect x="836.0" y="400.3" width="1.9" height="57.9" fill="#26a69a"/>
<rect x="832.9" y="427.6" width="8" height="11.3" fill="#26a69a"/>
<rect x="847.1" y="359.2" width="1.9" height="80.9" fill="#26a69a"/>
<rect x="844.1" y="373.0" width="8" height="55.5" fill="#26a69a"/>
<rect x="858.2" y="360.4" width="1.9" height="54.4" fill="#ef5350"/>
<rect x="855.2" y="373.2" width="8" height="1.8" fill="#ef5350"/>
<rect x="869.4" y="366.4" width="1.9" height="37.5" fill="#ef5350"/>
<rect x="866.3" y="374.4" width="8" height="9.0" fill="#ef5350"/>
<rect x="880.5" y="382.1" width="1.9" height="123.3" fill="#ef5350"/>
<rect x="877.4" y="383.4" width="8" height="16.9" fill="#ef5350"/>
<rect x="891.6" y="267.4" width="1.9" height="143.8" fill="#26a69a"/>
<rect x="888.5" y="274.2" width="8" height="126.1" fill="#26a69a"/>
<rect x="902.7" y="242.1" width="1.9" height="94.2" fill="#ef5350"/>
<rect x="899.7" y="274.2" width="8" height="7.0" fill="#ef5350"/>
<rect x="913.8" y="255.4" width="1.9" height="79.7" fill="#ef5350"/>
<rect x="910.8" y="281.2" width="8" height="16.9" fill="#ef5350"/>
<rect x="925.0" y="263.3" width="1.9" height="58.5" fill="#26a69a"/>
<rect x="921.9" y="294.0" width="8" height="5.6" fill="#26a69a"/>
<rect x="936.1" y="275.9" width="1.9" height="60.4" fill="#ef5350"/>
<rect x="933.0" y="293.3" width="8" height="14.5" fill="#ef5350"/>
<rect x="947.2" y="258.5" width="1.9" height="167.2" fill="#ef5350"/>
<rect x="944.2" y="307.3" width="8" height="47.9" fill="#ef5350"/>
<rect x="958.3" y="336.3" width="1.9" height="62.8" fill="#26a69a"/>
<rect x="955.3" y="345.5" width="8" height="8.9" fill="#26a69a"/>
<rect x="969.5" y="319.4" width="1.9" height="37.4" fill="#26a69a"/>
<rect x="966.4" y="337.5" width="8" height="8.0" fill="#26a69a"/>
<rect x="980.6" y="331.5" width="1.9" height="71.2" fill="#ef5350"/>
<rect x="977.5" y="337.5" width="8" height="64.5" fill="#ef5350"/>
<rect x="991.7" y="387.0" width="1.9" height="70.1" fill="#26a69a"/>
<rect x="988.7" y="392.4" width="8" height="9.1" fill="#26a69a"/>
<rect x="1002.8" y="389.5" width="1.9" height="37.4" fill="#ef5350"/>
<rect x="999.8" y="392.4" width="8" height="16.4" fill="#ef5350"/>
<rect x="1014.0" y="353.2" width="1.9" height="73.7" fill="#26a69a"/>
<rect x="1010.9" y="356.1" width="8" height="52.7" fill="#26a69a"/>
<rect x="1025.1" y="331.5" width="1.9" height="67.6" fill="#ef5350"/>
<rect x="1022.0" y="356.1" width="8" height="26.1" fill="#ef5350"/>
<rect x="1036.2" y="367.7" width="1.9" height="55.6" fill="#26a69a"/>
<rect x="1033.1" y="378.6" width="8" height="3.6" fill="#26a69a"/>
<rect x="1047.3" y="334.4" width="1.9" height="58.7" fill="#26a69a"/>
<rect x="1044.3" y="373.8" width="8" height="4.8" fill="#26a69a"/>
<rect x="1058.4" y="352.0" width="1.9" height="47.1" fill="#26a69a"/>
<rect x="1055.4" y="361.7" width="8" height="13.3" fill="#26a69a"/>
<rect x="1069.6" y="342.3" width="1.9" height="73.7" fill="#ef5350"/>
<rect x="1066.5" y="361.7" width="8" height="16.2" fill="#ef5350"/>
<rect x="1080.7" y="365.3" width="1.9" height="76.1" fill="#ef5350"/>
<rect x="1077.6" y="377.9" width="8" height="52.6" fill="#ef5350"/>
<rect x="1091.8" y="413.6" width="1.9" height="138.9" fill="#ef5350"/>
<rect x="1088.8" y="428.1" width="8" height="47.9" fill="#ef5350"/>
<rect x="1102.9" y="292.3" width="1.9" height="210.7" fill="#26a69a"/>
<rect x="1099.9" y="307.8" width="8" height="168.2" fill="#26a69a"/>
<rect x="1114.1" y="289.9" width="1.9" height="77.8" fill="#ef5350"/>
<rect x="1111.0" y="307.3" width="8" height="17.4" fill="#ef5350"/>
<rect x="1125.2" y="303.7" width="1.9" height="49.5" fill="#ef5350"/>
<rect x="1122.1" y="324.2" width="8" height="13.3" fill="#ef5350"/>
<rect x="1136.3" y="315.8" width="1.9" height="29.0" fill="#26a69a"/>
<rect x="1133.3" y="335.8" width="8" height="1.8" fill="#26a69a"/>
<rect x="1147.4" y="292.3" width="1.9" height="103.2" fill="#26a69a"/>
<rect x="1144.4" y="327.1" width="8" height="10.4" fill="#26a69a"/>
<rect x="1158.6" y="321.3" width="1.9" height="62.1" fill="#ef5350"/>
<rect x="1155.5" y="327.1" width="8" height="22.5" fill="#ef5350"/>
<rect x="1169.7" y="325.4" width="1.9" height="50.8" fill="#ef5350"/>
<rect x="1166.6" y="348.4" width="8" height="8.4" fill="#ef5350"/>
<rect x="1180.8" y="292.3" width="1.9" height="75.4" fill="#26a69a"/>
<rect x="1177.7" y="303.0" width="8" height="53.1" fill="#26a69a"/>
<rect x="1191.9" y="245.0" width="1.9" height="188.0" fill="#ef5350"/>
<rect x="1188.9" y="303.0" width="8" height="62.3" fill="#ef5350"/>
<rect x="1203.0" y="349.6" width="1.9" height="31.4" fill="#26a69a"/>
<rect x="1200.0" y="364.3" width="8" height="1.8" fill="#26a69a"/>
<rect x="1214.2" y="336.3" width="1.9" height="62.8" fill="#26a69a"/>
<rect x="1211.1" y="340.7" width="8" height="23.4" fill="#26a69a"/>
<rect x="1225.3" y="323.0" width="1.9" height="47.1" fill="#ef5350"/>
<rect x="1222.2" y="340.2" width="8" height="1.8" fill="#ef5350"/>
<rect x="1236.4" y="325.5" width="1.9" height="38.7" fill="#26a69a"/>
<rect x="1233.4" y="334.0" width="8" height="7.2" fill="#26a69a"/>
<rect x="1247.5" y="273.6" width="1.9" height="83.3" fill="#26a69a"/>
<rect x="1244.5" y="307.9" width="8" height="26.5" fill="#26a69a"/>
<rect x="1258.7" y="285.6" width="1.9" height="43.5" fill="#ef5350"/>
<rect x="1255.6" y="307.9" width="8" height="11.6" fill="#ef5350"/>
<rect x="1269.8" y="297.7" width="1.9" height="42.3" fill="#ef5350"/>
<rect x="1266.7" y="318.7" width="8" height="5.1" fill="#ef5350"/>
<rect x="1280.9" y="312.7" width="1.9" height="37.0" fill="#ef5350"/>
<rect x="1277.9" y="323.1" width="8" height="12.8" fill="#ef5350"/>
<rect x="1292.0" y="303.8" width="1.9" height="36.2" fill="#26a69a"/>
<rect x="1289.0" y="317.0" width="8" height="18.9" fill="#26a69a"/>
<rect x="1303.1" y="174.0" width="1.9" height="176.9" fill="#26a69a"/>
<rect x="1300.1" y="260.3" width="8" height="57.2" fill="#26a69a"/>
<rect x="1314.3" y="223.3" width="1.9" height="55.1" fill="#26a69a"/>
<rect x="1311.2" y="240.2" width="8" height="20.1" fill="#26a69a"/>
<rect x="1325.4" y="191.9" width="1.9" height="63.5" fill="#26a69a"/>
<rect x="1322.3" y="237.3" width="8" height="2.9" fill="#26a69a"/>
<rect x="1336.5" y="227.2" width="1.9" height="90.3" fill="#ef5350"/>
<rect x="1333.5" y="237.3" width="8" height="56.8" fill="#ef5350"/>
<rect x="1347.6" y="278.4" width="1.9" height="41.1" fill="#ef5350"/>
<rect x="1344.6" y="294.1" width="8" height="5.5" fill="#ef5350"/>
<rect x="1358.8" y="294.1" width="1.9" height="178.8" fill="#ef5350"/>
<rect x="1355.7" y="298.9" width="8" height="163.1" fill="#ef5350"/>
<rect x="1369.9" y="433.3" width="1.9" height="276.6" fill="#ef5350"/>
<rect x="1366.8" y="461.1" width="8" height="147.4" fill="#ef5350"/>
<rect x="1381.0" y="551.7" width="1.9" height="88.2" fill="#ef5350"/>
<rect x="1378.0" y="608.0" width="8" height="1.8" fill="#ef5350"/>
<rect x="1392.1" y="538.4" width="1.9" height="100.3" fill="#26a69a"/>
<rect x="1389.1" y="558.2" width="8" height="52.7" fill="#26a69a"/>
<rect x="1403.3" y="497.3" width="1.9" height="72.5" fill="#26a69a"/>
<rect x="1400.2" y="513.0" width="8" height="44.7" fill="#26a69a"/>
<rect x="1414.4" y="464.7" width="1.9" height="49.5" fill="#26a69a"/>
<rect x="1411.3" y="477.5" width="8" height="36.7" fill="#26a69a"/>
<rect x="1425.5" y="440.5" width="1.9" height="119.6" fill="#ef5350"/>
<rect x="1422.5" y="477.5" width="8" height="48.3" fill="#ef5350"/>
<rect x="1436.6" y="499.7" width="1.9" height="96.7" fill="#26a69a"/>
<rect x="1433.6" y="517.1" width="8" height="8.7" fill="#26a69a"/>
<rect x="1447.7" y="482.3" width="1.9" height="47.6" fill="#26a69a"/>
<rect x="1444.7" y="496.8" width="8" height="20.3" fill="#26a69a"/>
<rect x="1458.9" y="489.6" width="1.9" height="47.6" fill="#ef5350"/>
<rect x="1455.8" y="496.8" width="8" height="33.9" fill="#ef5350"/>
<rect x="1470.0" y="506.5" width="1.9" height="52.4" fill="#26a69a"/>
<rect x="1466.9" y="513.0" width="8" height="17.7" fill="#26a69a"/>
<rect x="1481.1" y="493.7" width="1.9" height="54.3" fill="#ef5350"/>
<rect x="1478.1" y="513.0" width="8" height="20.6" fill="#ef5350"/>
<rect x="1492.2" y="494.4" width="1.9" height="47.6" fill="#26a69a"/>
<rect x="1489.2" y="513.0" width="8" height="20.6" fill="#26a69a"/>
<rect x="1503.4" y="478.5" width="1.9" height="65.9" fill="#ef5350"/>
<rect x="1500.3" y="513.0" width="8" height="20.6" fill="#ef5350"/>
<rect x="1514.5" y="487.6" width="1.9" height="78.6" fill="#26a69a"/>
<rect x="1511.4" y="491.3" width="8" height="42.3" fill="#26a69a"/>
<rect x="1525.6" y="486.4" width="1.9" height="33.9" fill="#ef5350"/>
<rect x="1522.6" y="491.3" width="8" height="21.7" fill="#ef5350"/>
<rect x="1536.7" y="509.4" width="1.9" height="38.6" fill="#ef5350"/>
<rect x="1533.7" y="513.0" width="8" height="13.3" fill="#ef5350"/>
<rect x="1547.9" y="509.0" width="1.9" height="34.5" fill="#26a69a"/>
<rect x="1544.8" y="519.5" width="8" height="7.5" fill="#26a69a"/>
<rect x="1559.0" y="516.5" width="1.9" height="73.5" fill="#ef5350"/>
<rect x="1555.9" y="519.5" width="8" height="4.5" fill="#ef5350"/>
<rect x="1570.1" y="516.5" width="1.9" height="40.5" fill="#ef5350"/>
<rect x="1567.1" y="524.0" width="8" height="15.0" fill="#ef5350"/>
<rect x="1581.2" y="530.0" width="1.9" height="100.6" fill="#ef5350"/>
<rect x="1578.2" y="539.0" width="8" height="33.0" fill="#ef5350"/>
<rect x="1592.3" y="552.5" width="1.9" height="153.1" fill="#ef5350"/>
<rect x="1589.3" y="570.5" width="8" height="109.6" fill="#ef5350"/>
<rect x="1603.5" y="642.6" width="1.9" height="192.1" fill="#ef5350"/>
<rect x="1600.4" y="680.1" width="8" height="24.0" fill="#ef5350"/>
<rect x="1614.6" y="678.6" width="1.9" height="60.0" fill="#ef5350"/>
<rect x="1611.5" y="705.0" width="8" height="1.8" fill="#ef5350"/>
<rect x="1625.7" y="590.0" width="1.9" height="163.6" fill="#26a69a"/>
<rect x="1622.7" y="598.5" width="8" height="109.5" fill="#26a69a"/>
<rect x="1636.8" y="504.5" width="1.9" height="94.0" fill="#26a69a"/>
<rect x="1633.8" y="524.0" width="8" height="74.5" fill="#26a69a"/>
<rect x="1648.0" y="478.0" width="1.9" height="62.6" fill="#26a69a"/>
<rect x="1644.9" y="520.4" width="8" height="4.4" fill="#26a69a"/>
<rect x="1659.1" y="425.3" width="1.9" height="127.3" fill="#26a69a"/>
<rect x="1656.0" y="437.3" width="8" height="83.1" fill="#26a69a"/>
<rect x="1670.2" y="427.5" width="1.9" height="74.6" fill="#ef5350"/>
<rect x="1667.2" y="436.2" width="8" height="38.5" fill="#ef5350"/>
<rect x="1681.3" y="448.3" width="1.9" height="48.3" fill="#26a69a"/>
<rect x="1678.3" y="469.8" width="8" height="2.7" fill="#26a69a"/>
<rect x="1692.5" y="420.2" width="1.9" height="116.0" fill="#ef5350"/>
<rect x="1689.4" y="469.8" width="8" height="34.5" fill="#ef5350"/>
<rect x="1703.6" y="468.1" width="1.9" height="48.3" fill="#26a69a"/>
<rect x="1700.5" y="470.3" width="8" height="34.0" fill="#26a69a"/>
<rect x="1714.7" y="452.7" width="1.9" height="35.2" fill="#26a69a"/>
<rect x="1711.7" y="459.3" width="8" height="11.4" fill="#26a69a"/>
<rect x="1725.8" y="453.8" width="1.9" height="69.2" fill="#ef5350"/>
<rect x="1722.8" y="458.2" width="8" height="40.6" fill="#ef5350"/>
<rect x="1736.9" y="454.9" width="1.9" height="57.1" fill="#26a69a"/>
<rect x="1733.9" y="467.0" width="8" height="31.8" fill="#26a69a"/>
<rect x="1748.1" y="459.7" width="1.9" height="35.2" fill="#ef5350"/>
<rect x="1745.0" y="467.0" width="8" height="22.0" fill="#ef5350"/>
<rect x="1759.2" y="435.1" width="1.9" height="120.8" fill="#ef5350"/>
<rect x="1756.1" y="487.9" width="8" height="48.3" fill="#ef5350"/>
<rect x="1770.3" y="517.5" width="1.9" height="81.3" fill="#ef5350"/>
<rect x="1767.3" y="535.7" width="8" height="60.9" fill="#ef5350"/>
<rect x="1781.4" y="491.8" width="1.9" height="144.3" fill="#26a69a"/>
<rect x="1778.4" y="495.5" width="8" height="100.0" fill="#26a69a"/>
<rect x="1792.6" y="492.2" width="1.9" height="42.9" fill="#ef5350"/>
<rect x="1789.5" y="496.6" width="8" height="18.7" fill="#ef5350"/>
<rect x="1803.7" y="502.0" width="1.9" height="29.6" fill="#26a69a"/>
<rect x="1800.6" y="512.2" width="8" height="4.5" fill="#26a69a"/>
<rect x="1814.8" y="481.0" width="1.9" height="67.4" fill="#ef5350"/>
<rect x="1811.8" y="512.2" width="8" height="4.5" fill="#ef5350"/>
<rect x="1825.9" y="508.5" width="1.9" height="39.0" fill="#ef5350"/>
<rect x="1822.9" y="515.2" width="8" height="29.5" fill="#ef5350"/>
<rect x="1837.1" y="523.7" width="1.9" height="51.8" fill="#26a69a"/>
<rect x="1834.0" y="537.1" width="8" height="7.2" fill="#26a69a"/>
<rect x="1848.2" y="525.6" width="1.9" height="83.8" fill="#ef5350"/>
<rect x="1845.1" y="537.1" width="8" height="7.2" fill="#ef5350"/>
<rect x="1859.3" y="543.7" width="1.9" height="104.7" fill="#ef5350"/>
<rect x="1856.2" y="543.7" width="8" height="68.5" fill="#ef5350"/>
<rect x="1870.4" y="575.1" width="1.9" height="48.6" fill="#26a69a"/>
<rect x="1867.4" y="597.0" width="8" height="15.2" fill="#26a69a"/>
<rect x="1881.5" y="513.3" width="1.9" height="98.9" fill="#26a69a"/>
<rect x="1878.5" y="544.3" width="8" height="52.7" fill="#26a69a"/>
<rect x="1892.7" y="521.8" width="1.9" height="46.7" fill="#ef5350"/>
<rect x="1889.6" y="543.7" width="8" height="1.9" fill="#ef5350"/>
<rect x="1903.8" y="543.7" width="1.9" height="72.4" fill="#ef5350"/>
<rect x="1900.7" y="545.6" width="8" height="46.7" fill="#ef5350"/>
<rect x="1914.9" y="563.7" width="1.9" height="57.1" fill="#26a69a"/>
<rect x="1911.9" y="590.4" width="8" height="1.9" fill="#26a69a"/>
<rect x="1926.0" y="565.6" width="1.9" height="39.0" fill="#26a69a"/>
<rect x="1923.0" y="577.0" width="8" height="13.4" fill="#26a69a"/>
<rect x="1937.2" y="577.0" width="1.9" height="23.8" fill="#ef5350"/>
<rect x="1934.1" y="578.0" width="8" height="17.1" fill="#ef5350"/>
<rect x="1948.3" y="548.5" width="1.9" height="126.5" fill="#26a69a"/>
<rect x="1945.2" y="580.8" width="8" height="14.3" fill="#26a69a"/>
<rect x="1959.4" y="575.1" width="1.9" height="63.8" fill="#ef5350"/>
<rect x="1956.4" y="580.8" width="8" height="41.0" fill="#ef5350"/>
<rect x="1970.5" y="584.7" width="1.9" height="48.3" fill="#26a69a"/>
<rect x="1967.5" y="604.5" width="8" height="17.6" fill="#26a69a"/>
<rect x="1981.7" y="538.6" width="1.9" height="67.0" fill="#26a69a"/>
<rect x="1978.6" y="560.6" width="8" height="45.0" fill="#26a69a"/>
<rect x="1992.8" y="535.3" width="1.9" height="36.2" fill="#26a69a"/>
<rect x="1989.7" y="552.9" width="8" height="9.9" fill="#26a69a"/>
<rect x="2003.9" y="523.2" width="1.9" height="39.6" fill="#ef5350"/>
<rect x="2000.8" y="552.9" width="8" height="3.3" fill="#ef5350"/>
<rect x="2015.0" y="545.2" width="1.9" height="32.9" fill="#ef5350"/>
<rect x="2012.0" y="554.0" width="8" height="7.7" fill="#ef5350"/>
<rect x="2026.1" y="540.4" width="1.9" height="43.2" fill="#26a69a"/>
<rect x="2023.1" y="551.8" width="8" height="9.9" fill="#26a69a"/>
<rect x="2037.3" y="548.5" width="1.9" height="47.2" fill="#ef5350"/>
<rect x="2034.2" y="551.8" width="8" height="14.3" fill="#ef5350"/>
<rect x="2048.4" y="563.9" width="1.9" height="44.5" fill="#ef5350"/>
<rect x="2045.3" y="565.0" width="8" height="36.2" fill="#ef5350"/>
<rect x="2059.5" y="536.4" width="1.9" height="74.6" fill="#26a69a"/>
<rect x="2056.5" y="544.1" width="8" height="56.0" fill="#26a69a"/>
<rect x="2070.6" y="504.6" width="1.9" height="40.6" fill="#26a69a"/>
<rect x="2067.6" y="512.2" width="8" height="33.0" fill="#26a69a"/>
<line x1="13.1" y1="513" x2="2550.8" y2="513" stroke="#2f8a80" stroke-width="2" stroke-dasharray="4 2"/>
</g>
<g clip-path="url(#cv)">
<rect x="9.5" y="1223.0" width="8.7" height="54.8" fill="#92d2cc"/>
<rect x="20.6" y="1230.0" width="8.7" height="47.8" fill="#92d2cc"/>
<rect x="31.7" y="1231.1" width="8.7" height="46.7" fill="#f7a9a8"/>
<rect x="42.9" y="1253.2" width="8.7" height="24.6" fill="#f7a9a8"/>
<rect x="54.0" y="1241.1" width="8.7" height="36.7" fill="#92d2cc"/>
<rect x="65.1" y="1247.2" width="8.7" height="30.6" fill="#f7a9a8"/>
<rect x="76.2" y="1231.1" width="8.7" height="46.7" fill="#f7a9a8"/>
<rect x="87.3" y="1243.2" width="8.7" height="34.6" fill="#92d2cc"/>
<rect x="98.5" y="1253.2" width="8.7" height="24.6" fill="#f7a9a8"/>
<rect x="109.6" y="1252.2" width="8.7" height="25.6" fill="#f7a9a8"/>
<rect x="120.7" y="1253.2" width="8.7" height="24.6" fill="#92d2cc"/>
<rect x="131.8" y="1248.0" width="8.7" height="29.8" fill="#92d2cc"/>
<rect x="143.0" y="1234.0" width="8.7" height="43.8" fill="#f7a9a8"/>
<rect x="154.1" y="1215.3" width="8.7" height="62.5" fill="#f7a9a8"/>
<rect x="165.2" y="1188.1" width="8.7" height="89.7" fill="#f7a9a8"/>
<rect x="176.3" y="1207.7" width="8.7" height="70.1" fill="#f7a9a8"/>
<rect x="187.5" y="1222.2" width="8.7" height="55.6" fill="#92d2cc"/>
<rect x="198.6" y="1239.1" width="8.7" height="38.7" fill="#92d2cc"/>
<rect x="209.7" y="1217.1" width="8.7" height="60.7" fill="#f7a9a8"/>
<rect x="220.8" y="1226.2" width="8.7" height="51.6" fill="#92d2cc"/>
<rect x="231.9" y="1223.8" width="8.7" height="54.0" fill="#92d2cc"/>
<rect x="243.1" y="1251.2" width="8.7" height="26.6" fill="#f7a9a8"/>
<rect x="254.2" y="1245.1" width="8.7" height="32.7" fill="#92d2cc"/>
<rect x="265.3" y="1235.1" width="8.7" height="42.7" fill="#92d2cc"/>
<rect x="276.4" y="1222.2" width="8.7" height="55.6" fill="#f7a9a8"/>
<rect x="287.6" y="1215.8" width="8.7" height="62.0" fill="#f7a9a8"/>
<rect x="298.7" y="1235.1" width="8.7" height="42.7" fill="#92d2cc"/>
<rect x="309.8" y="1246.4" width="8.7" height="31.4" fill="#92d2cc"/>
<rect x="320.9" y="1249.1" width="8.7" height="28.7" fill="#f7a9a8"/>
<rect x="332.0" y="1251.2" width="8.7" height="26.6" fill="#92d2cc"/>
<rect x="343.2" y="1181.1" width="8.7" height="96.7" fill="#92d2cc"/>
<rect x="354.3" y="1195.3" width="8.7" height="82.5" fill="#f7a9a8"/>
<rect x="365.4" y="1239.1" width="8.7" height="38.7" fill="#92d2cc"/>
<rect x="376.5" y="1238.3" width="8.7" height="39.5" fill="#92d2cc"/>
<rect x="387.7" y="1236.2" width="8.7" height="41.6" fill="#f7a9a8"/>
<rect x="398.8" y="1247.2" width="8.7" height="30.6" fill="#f7a9a8"/>
<rect x="409.9" y="1235.4" width="8.7" height="42.4" fill="#92d2cc"/>
<rect x="421.0" y="1163.9" width="8.7" height="113.9" fill="#92d2cc"/>
<rect x="432.2" y="1227.5" width="8.7" height="50.3" fill="#f7a9a8"/>
<rect x="443.3" y="1219.3" width="8.7" height="58.5" fill="#92d2cc"/>
<rect x="454.4" y="1226.2" width="8.7" height="51.6" fill="#f7a9a8"/>
<rect x="465.5" y="1243.2" width="8.7" height="34.6" fill="#92d2cc"/>
<rect x="476.6" y="1198.9" width="8.7" height="78.9" fill="#f7a9a8"/>
<rect x="487.8" y="1239.5" width="8.7" height="38.3" fill="#92d2cc"/>
<rect x="498.9" y="1239.5" width="8.7" height="38.3" fill="#f7a9a8"/>
<rect x="510.0" y="1258.1" width="8.7" height="19.7" fill="#92d2cc"/>
<rect x="521.1" y="1252.3" width="8.7" height="25.5" fill="#f7a9a8"/>
<rect x="532.3" y="1220.3" width="8.7" height="57.5" fill="#92d2cc"/>
<rect x="543.4" y="1240.4" width="8.7" height="37.4" fill="#92d2cc"/>
<rect x="554.5" y="1240.4" width="8.7" height="37.4" fill="#f7a9a8"/>
<rect x="565.6" y="1254.1" width="8.7" height="23.7" fill="#f7a9a8"/>
<rect x="576.8" y="1205.3" width="8.7" height="72.5" fill="#92d2cc"/>
<rect x="587.9" y="1239.5" width="8.7" height="38.3" fill="#f7a9a8"/>
<rect x="599.0" y="1245.3" width="8.7" height="32.5" fill="#f7a9a8"/>
<rect x="610.1" y="1245.3" width="8.7" height="32.5" fill="#92d2cc"/>
<rect x="621.2" y="1227.5" width="8.7" height="50.3" fill="#f7a9a8"/>
<rect x="632.4" y="1249.1" width="8.7" height="28.7" fill="#92d2cc"/>
<rect x="643.5" y="1240.4" width="8.7" height="37.4" fill="#f7a9a8"/>
<rect x="654.6" y="1244.0" width="8.7" height="33.8" fill="#92d2cc"/>
<rect x="665.7" y="1243.2" width="8.7" height="34.6" fill="#92d2cc"/>
<rect x="676.9" y="1250.4" width="8.7" height="27.4" fill="#f7a9a8"/>
<rect x="688.0" y="1240.4" width="8.7" height="37.4" fill="#92d2cc"/>
<rect x="699.1" y="1246.4" width="8.7" height="31.4" fill="#92d2cc"/>
<rect x="710.2" y="1095.5" width="8.7" height="182.3" fill="#92d2cc"/>
<rect x="721.4" y="1170.2" width="8.7" height="107.6" fill="#f7a9a8"/>
<rect x="732.5" y="1230.3" width="8.7" height="47.5" fill="#92d2cc"/>
<rect x="743.6" y="1227.4" width="8.7" height="50.4" fill="#f7a9a8"/>
<rect x="754.7" y="1086.1" width="8.7" height="191.7" fill="#f7a9a8"/>
<rect x="765.8" y="1220.3" width="8.7" height="57.5" fill="#92d2cc"/>
<rect x="777.0" y="1240.3" width="8.7" height="37.5" fill="#92d2cc"/>
<rect x="788.1" y="1252.3" width="8.7" height="25.5" fill="#f7a9a8"/>
<rect x="799.2" y="1241.2" width="8.7" height="36.6" fill="#92d2cc"/>
<rect x="810.3" y="1235.4" width="8.7" height="42.4" fill="#92d2cc"/>
<rect x="821.5" y="1232.4" width="8.7" height="45.4" fill="#f7a9a8"/>
<rect x="832.6" y="1244.0" width="8.7" height="33.8" fill="#92d2cc"/>
<rect x="843.7" y="1251.2" width="8.7" height="26.6" fill="#92d2cc"/>
<rect x="854.8" y="1251.2" width="8.7" height="26.6" fill="#f7a9a8"/>
<rect x="866.0" y="1250.1" width="8.7" height="27.7" fill="#f7a9a8"/>
<rect x="877.1" y="1219.3" width="8.7" height="58.5" fill="#f7a9a8"/>
<rect x="888.2" y="1208.0" width="8.7" height="69.8" fill="#92d2cc"/>
<rect x="899.3" y="1227.9" width="8.7" height="49.9" fill="#f7a9a8"/>
<rect x="910.4" y="1247.2" width="8.7" height="30.6" fill="#f7a9a8"/>
<rect x="921.6" y="1253.3" width="8.7" height="24.5" fill="#92d2cc"/>
<rect x="932.7" y="1250.1" width="8.7" height="27.7" fill="#f7a9a8"/>
<rect x="943.8" y="1205.3" width="8.7" height="72.5" fill="#f7a9a8"/>
<rect x="954.9" y="1235.4" width="8.7" height="42.4" fill="#92d2cc"/>
<rect x="966.1" y="1250.1" width="8.7" height="27.7" fill="#92d2cc"/>
<rect x="977.2" y="1254.1" width="8.7" height="23.7" fill="#f7a9a8"/>
<rect x="988.3" y="1242.0" width="8.7" height="35.8" fill="#92d2cc"/>
<rect x="999.4" y="1259.3" width="8.7" height="18.5" fill="#f7a9a8"/>
<rect x="1010.6" y="1250.1" width="8.7" height="27.7" fill="#92d2cc"/>
<rect x="1021.7" y="1251.2" width="8.7" height="26.6" fill="#f7a9a8"/>
<rect x="1032.8" y="1257.2" width="8.7" height="20.6" fill="#92d2cc"/>
<rect x="1043.9" y="1256.1" width="8.7" height="21.7" fill="#92d2cc"/>
<rect x="1055.0" y="1263.0" width="8.7" height="14.8" fill="#92d2cc"/>
<rect x="1066.2" y="1256.1" width="8.7" height="21.7" fill="#f7a9a8"/>
<rect x="1077.3" y="1244.0" width="8.7" height="33.8" fill="#f7a9a8"/>
<rect x="1088.4" y="1198.1" width="8.7" height="79.7" fill="#f7a9a8"/>
<rect x="1099.5" y="1223.4" width="8.7" height="54.4" fill="#92d2cc"/>
<rect x="1110.7" y="1217.1" width="8.7" height="60.7" fill="#f7a9a8"/>
<rect x="1121.8" y="1247.2" width="8.7" height="30.6" fill="#f7a9a8"/>
<rect x="1132.9" y="1257.2" width="8.7" height="20.6" fill="#92d2cc"/>
<rect x="1144.0" y="1229.1" width="8.7" height="48.7" fill="#92d2cc"/>
<rect x="1155.2" y="1244.0" width="8.7" height="33.8" fill="#f7a9a8"/>
<rect x="1166.3" y="1252.0" width="8.7" height="25.8" fill="#f7a9a8"/>
<rect x="1177.4" y="1251.2" width="8.7" height="26.6" fill="#92d2cc"/>
<rect x="1188.5" y="1219.3" width="8.7" height="58.5" fill="#f7a9a8"/>
<rect x="1199.6" y="1256.1" width="8.7" height="21.7" fill="#92d2cc"/>
<rect x="1210.8" y="1247.2" width="8.7" height="30.6" fill="#92d2cc"/>
<rect x="1221.9" y="1243.2" width="8.7" height="34.6" fill="#f7a9a8"/>
<rect x="1233.0" y="1252.0" width="8.7" height="25.8" fill="#92d2cc"/>
<rect x="1244.1" y="1239.1" width="8.7" height="38.7" fill="#92d2cc"/>
<rect x="1255.3" y="1252.0" width="8.7" height="25.8" fill="#f7a9a8"/>
<rect x="1266.4" y="1255.2" width="8.7" height="22.6" fill="#f7a9a8"/>
<rect x="1277.5" y="1254.1" width="8.7" height="23.7" fill="#f7a9a8"/>
<rect x="1288.6" y="1254.1" width="8.7" height="23.7" fill="#92d2cc"/>
<rect x="1299.8" y="1191.1" width="8.7" height="86.7" fill="#92d2cc"/>
<rect x="1310.9" y="1245.1" width="8.7" height="32.7" fill="#92d2cc"/>
<rect x="1322.0" y="1234.3" width="8.7" height="43.5" fill="#92d2cc"/>
<rect x="1333.1" y="1236.2" width="8.7" height="41.6" fill="#f7a9a8"/>
<rect x="1344.2" y="1242.0" width="8.7" height="35.8" fill="#f7a9a8"/>
<rect x="1355.4" y="1172.0" width="8.7" height="105.8" fill="#f7a9a8"/>
<rect x="1366.5" y="1123.2" width="8.7" height="154.6" fill="#f7a9a8"/>
<rect x="1377.6" y="1231.1" width="8.7" height="46.7" fill="#f7a9a8"/>
<rect x="1388.7" y="1239.1" width="8.7" height="38.7" fill="#92d2cc"/>
<rect x="1399.9" y="1239.1" width="8.7" height="38.7" fill="#92d2cc"/>
<rect x="1411.0" y="1237.2" width="8.7" height="40.6" fill="#92d2cc"/>
<rect x="1422.1" y="1223.4" width="8.7" height="54.4" fill="#f7a9a8"/>
<rect x="1433.2" y="1239.1" width="8.7" height="38.7" fill="#92d2cc"/>
<rect x="1444.3" y="1260.1" width="8.7" height="17.7" fill="#92d2cc"/>
<rect x="1455.5" y="1260.1" width="8.7" height="17.7" fill="#f7a9a8"/>
<rect x="1466.6" y="1256.1" width="8.7" height="21.7" fill="#92d2cc"/>
<rect x="1477.7" y="1254.1" width="8.7" height="23.7" fill="#f7a9a8"/>
<rect x="1488.8" y="1253.2" width="8.7" height="24.6" fill="#92d2cc"/>
<rect x="1500.0" y="1258.1" width="8.7" height="19.7" fill="#f7a9a8"/>
<rect x="1511.1" y="1257.2" width="8.7" height="20.6" fill="#92d2cc"/>
<rect x="1522.2" y="1266.2" width="8.7" height="11.6" fill="#f7a9a8"/>
<rect x="1533.3" y="1259.3" width="8.7" height="18.5" fill="#f7a9a8"/>
<rect x="1544.5" y="1263.0" width="8.7" height="14.8" fill="#92d2cc"/>
<rect x="1555.6" y="1237.2" width="8.7" height="40.6" fill="#f7a9a8"/>
<rect x="1566.7" y="1262.2" width="8.7" height="15.6" fill="#f7a9a8"/>
<rect x="1577.8" y="1239.9" width="8.7" height="37.9" fill="#f7a9a8"/>
<rect x="1588.9" y="1225.9" width="8.7" height="51.9" fill="#f7a9a8"/>
<rect x="1600.1" y="1163.9" width="8.7" height="113.9" fill="#f7a9a8"/>
<rect x="1611.2" y="1231.1" width="8.7" height="46.7" fill="#f7a9a8"/>
<rect x="1622.3" y="1208.2" width="8.7" height="69.6" fill="#92d2cc"/>
<rect x="1633.4" y="1211.8" width="8.7" height="66.0" fill="#92d2cc"/>
<rect x="1644.6" y="1234.0" width="8.7" height="43.8" fill="#92d2cc"/>
<rect x="1655.7" y="1227.1" width="8.7" height="50.7" fill="#92d2cc"/>
<rect x="1666.8" y="1238.0" width="8.7" height="39.8" fill="#f7a9a8"/>
<rect x="1677.9" y="1245.1" width="8.7" height="32.7" fill="#92d2cc"/>
<rect x="1689.1" y="1211.3" width="8.7" height="66.5" fill="#f7a9a8"/>
<rect x="1700.2" y="1249.1" width="8.7" height="28.7" fill="#92d2cc"/>
<rect x="1711.3" y="1258.1" width="8.7" height="19.7" fill="#92d2cc"/>
<rect x="1722.4" y="1252.0" width="8.7" height="25.8" fill="#f7a9a8"/>
<rect x="1733.5" y="1251.2" width="8.7" height="26.6" fill="#92d2cc"/>
<rect x="1744.7" y="1254.1" width="8.7" height="23.7" fill="#f7a9a8"/>
<rect x="1755.8" y="1221.1" width="8.7" height="56.7" fill="#f7a9a8"/>
<rect x="1766.9" y="1231.1" width="8.7" height="46.7" fill="#f7a9a8"/>
<rect x="1778.0" y="1237.2" width="8.7" height="40.6" fill="#92d2cc"/>
<rect x="1789.2" y="1259.3" width="8.7" height="18.5" fill="#f7a9a8"/>
<rect x="1800.3" y="1258.1" width="8.7" height="19.7" fill="#92d2cc"/>
<rect x="1811.4" y="1247.2" width="8.7" height="30.6" fill="#f7a9a8"/>
<rect x="1822.5" y="1243.2" width="8.7" height="34.6" fill="#f7a9a8"/>
<rect x="1833.7" y="1246.1" width="8.7" height="31.7" fill="#92d2cc"/>
<rect x="1844.8" y="1242.0" width="8.7" height="35.8" fill="#f7a9a8"/>
<rect x="1855.9" y="1233.2" width="8.7" height="44.6" fill="#f7a9a8"/>
<rect x="1867.0" y="1247.2" width="8.7" height="30.6" fill="#92d2cc"/>
<rect x="1878.1" y="1235.9" width="8.7" height="41.9" fill="#92d2cc"/>
<rect x="1889.3" y="1246.1" width="8.7" height="31.7" fill="#f7a9a8"/>
<rect x="1900.4" y="1242.0" width="8.7" height="35.8" fill="#f7a9a8"/>
<rect x="1911.5" y="1252.0" width="8.7" height="25.8" fill="#92d2cc"/>
<rect x="1922.6" y="1260.1" width="8.7" height="17.7" fill="#92d2cc"/>
<rect x="1933.8" y="1261.2" width="8.7" height="16.6" fill="#f7a9a8"/>
<rect x="1944.9" y="1235.9" width="8.7" height="41.9" fill="#92d2cc"/>
<rect x="1956.0" y="1256.1" width="8.7" height="21.7" fill="#f7a9a8"/>
<rect x="1967.1" y="1257.2" width="8.7" height="20.6" fill="#92d2cc"/>
<rect x="1978.3" y="1256.1" width="8.7" height="21.7" fill="#92d2cc"/>
<rect x="1989.4" y="1260.1" width="8.7" height="17.7" fill="#92d2cc"/>
<rect x="2000.5" y="1258.1" width="8.7" height="19.7" fill="#f7a9a8"/>
<rect x="2011.6" y="1260.1" width="8.7" height="17.7" fill="#f7a9a8"/>
<rect x="2022.7" y="1259.3" width="8.7" height="18.5" fill="#92d2cc"/>
<rect x="2033.9" y="1257.2" width="8.7" height="20.6" fill="#f7a9a8"/>
<rect x="2045.0" y="1260.1" width="8.7" height="17.7" fill="#f7a9a8"/>
<rect x="2056.1" y="1253.2" width="8.7" height="24.6" fill="#92d2cc"/>
<rect x="2067.2" y="1258.1" width="8.7" height="19.7" fill="#92d2cc"/>
<text x="31.0" y="1103.0" font-size="25.5" fill="#4a4d55" font-weight="normal" text-anchor="start" textLength="85.0" lengthAdjust="spacingAndGlyphs">Vol (20)</text>
</g>
<rect x="13.1" y="87.0" width="2669.9" height="1269.9" fill="none" stroke="#45464c" stroke-width="2.1"/>
<line x1="2550.8" y1="87.0" x2="2550.8" y2="1356.9" stroke="#45464c" stroke-width="2"/>
<line x1="13.1" y1="1060.5" x2="2683.0" y2="1060.5" stroke="#45464c" stroke-width="2"/>
<line x1="13.1" y1="1298.8" x2="2683.0" y2="1298.8" stroke="#45464c" stroke-width="2"/>
<line x1="2550.8" y1="1024.0" x2="2558.3" y2="1024.0" stroke="#45464c" stroke-width="1.6"/>
<text x="2569.3" y="1033.6" font-size="25" fill="#4f525b" font-weight="normal" text-anchor="start" textLength="81.7" lengthAdjust="spacingAndGlyphs">8600.00</text>
<line x1="2550.8" y1="963.0" x2="2558.3" y2="963.0" stroke="#45464c" stroke-width="1.6"/>
<text x="2569.3" y="972.6" font-size="25" fill="#4f525b" font-weight="normal" text-anchor="start" textLength="81.7" lengthAdjust="spacingAndGlyphs">8700.00</text>
<line x1="2550.8" y1="902.0" x2="2558.3" y2="902.0" stroke="#45464c" stroke-width="1.6"/>
<text x="2569.3" y="911.6" font-size="25" fill="#4f525b" font-weight="normal" text-anchor="start" textLength="81.7" lengthAdjust="spacingAndGlyphs">8800.00</text>
<line x1="2550.8" y1="841.0" x2="2558.3" y2="841.0" stroke="#45464c" stroke-width="1.6"/>
<text x="2569.3" y="850.6" font-size="25" fill="#4f525b" font-weight="normal" text-anchor="start" textLength="81.7" lengthAdjust="spacingAndGlyphs">8900.00</text>
<line x1="2550.8" y1="780.0" x2="2558.3" y2="780.0" stroke="#45464c" stroke-width="1.6"/>
<text x="2569.3" y="789.6" font-size="25" fill="#4f525b" font-weight="normal" text-anchor="start" textLength="81.7" lengthAdjust="spacingAndGlyphs">9000.00</text>
<line x1="2550.8" y1="719.0" x2="2558.3" y2="719.0" stroke="#45464c" stroke-width="1.6"/>
<text x="2569.3" y="728.6" font-size="25" fill="#4f525b" font-weight="normal" text-anchor="start" textLength="81.7" lengthAdjust="spacingAndGlyphs">9100.00</text>
<line x1="2550.8" y1="658.0" x2="2558.3" y2="658.0" stroke="#45464c" stroke-width="1.6"/>
<text x="2569.3" y="667.6" font-size="25" fill="#4f525b" font-weight="normal" text-anchor="start" textLength="81.7" lengthAdjust="spacingAndGlyphs">9200.00</text>
<line x1="2550.8" y1="535.9" x2="2558.3" y2="535.9" stroke="#45464c" stroke-width="1.6"/>
<text x="2569.3" y="545.5" font-size="25" fill="#4f525b" font-weight="normal" text-anchor="start" textLength="81.7" lengthAdjust="spacingAndGlyphs">9400.00</text>
<line x1="2550.8" y1="474.9" x2="2558.3" y2="474.9" stroke="#45464c" stroke-width="1.6"/>
<text x="2569.3" y="484.5" font-size="25" fill="#4f525b" font-weight="normal" text-anchor="start" textLength="81.7" lengthAdjust="spacingAndGlyphs">9500.00</text>
<line x1="2550.8" y1="413.9" x2="2558.3" y2="413.9" stroke="#45464c" stroke-width="1.6"/>
<text x="2569.3" y="423.5" font-size="25" fill="#4f525b" font-weight="normal" text-anchor="start" textLength="81.7" lengthAdjust="spacingAndGlyphs">9600.00</text>
<line x1="2550.8" y1="352.9" x2="2558.3" y2="352.9" stroke="#45464c" stroke-width="1.6"/>
<text x="2569.3" y="362.5" font-size="25" fill="#4f525b" font-weight="normal" text-anchor="start" textLength="81.7" lengthAdjust="spacingAndGlyphs">9700.00</text>
<line x1="2550.8" y1="291.9" x2="2558.3" y2="291.9" stroke="#45464c" stroke-width="1.6"/>
<text x="2569.3" y="301.5" font-size="25" fill="#4f525b" font-weight="normal" text-anchor="start" textLength="81.7" lengthAdjust="spacingAndGlyphs">9800.00</text>
<line x1="2550.8" y1="230.9" x2="2558.3" y2="230.9" stroke="#45464c" stroke-width="1.6"/>
<text x="2569.3" y="240.5" font-size="25" fill="#4f525b" font-weight="normal" text-anchor="start" textLength="81.7" lengthAdjust="spacingAndGlyphs">9900.00</text>
<line x1="2550.8" y1="169.9" x2="2558.3" y2="169.9" stroke="#45464c" stroke-width="1.6"/>
<text x="2569.3" y="179.5" font-size="25" fill="#4f525b" font-weight="normal" text-anchor="start" textLength="94.1" lengthAdjust="spacingAndGlyphs">10000.00</text>
<line x1="2550.8" y1="108.9" x2="2558.3" y2="108.9" stroke="#45464c" stroke-width="1.6"/>
<text x="2569.3" y="118.5" font-size="25" fill="#4f525b" font-weight="normal" text-anchor="start" textLength="94.1" lengthAdjust="spacingAndGlyphs">10100.00</text>
<rect x="2550.3" y="319.2" width="119.4" height="35.2" fill="#ff0000"/>
<line x1="2551" y1="336.8" x2="2557.6" y2="336.8" stroke="#ffffff" stroke-width="1.6"/>
<text x="2569.3" y="346.4" font-size="25" fill="#ffffff" font-weight="normal" text-anchor="start" textLength="81.7" lengthAdjust="spacingAndGlyphs">9725.00</text>
<rect x="2550.3" y="495.1" width="119.4" height="35.2" fill="#26a69a"/>
<line x1="2551" y1="512.7" x2="2557.6" y2="512.7" stroke="#ffffff" stroke-width="1.6"/>
<text x="2569.3" y="522.3" font-size="25" fill="#ffffff" font-weight="normal" text-anchor="start" textLength="81.7" lengthAdjust="spacingAndGlyphs">9437.77</text>
<rect x="2550.3" y="532.8" width="119.4" height="35.8" fill="#26a69a"/>
<text x="2560.5" y="560.3" font-size="25" fill="#ffffff" font-weight="normal" text-anchor="start" textLength="91.6" lengthAdjust="spacingAndGlyphs">02:26:32</text>
<rect x="2550.3" y="569.4" width="119.4" height="35.1" fill="#ff0000"/>
<line x1="2551" y1="587.0" x2="2557.6" y2="587.0" stroke="#ffffff" stroke-width="1.6"/>
<text x="2569.3" y="596.6" font-size="25" fill="#ffffff" font-weight="normal" text-anchor="start" textLength="81.7" lengthAdjust="spacingAndGlyphs">9435.27</text>
<rect x="2550.3" y="605.6" width="119.4" height="34.8" fill="#ffff00"/>
<line x1="2551" y1="623.0" x2="2557.6" y2="623.0" stroke="#000000" stroke-width="1.6"/>
<text x="2569.3" y="632.6" font-size="25" fill="#000000" font-weight="normal" text-anchor="start" textLength="81.7" lengthAdjust="spacingAndGlyphs">9295.03</text>
<rect x="2550.3" y="844.0" width="119.4" height="34.6" fill="#ffff00"/>
<line x1="2551" y1="861.3" x2="2557.6" y2="861.3" stroke="#000000" stroke-width="1.6"/>
<text x="2569.3" y="870.9" font-size="25" fill="#000000" font-weight="normal" text-anchor="start" textLength="81.7" lengthAdjust="spacingAndGlyphs">8864.78</text>
<line x1="2550.8" y1="1096" x2="2558.3" y2="1096" stroke="#45464c" stroke-width="1.6"/>
<text x="2567.9" y="1105.6" font-size="25" fill="#4f525b" font-weight="normal" text-anchor="start" textLength="39.2" lengthAdjust="spacingAndGlyphs">40K</text>
<line x1="2550.8" y1="1186.5" x2="2558.3" y2="1186.5" stroke="#45464c" stroke-width="1.6"/>
<text x="2567.9" y="1196.1" font-size="25" fill="#4f525b" font-weight="normal" text-anchor="start" textLength="39.2" lengthAdjust="spacingAndGlyphs">20K</text>
<line x1="2550.8" y1="1276.6" x2="2558.3" y2="1276.6" stroke="#45464c" stroke-width="1.6"/>
<text x="2567.9" y="1286.2" font-size="25" fill="#4f525b" font-weight="normal" text-anchor="start">0</text>
<line x1="191.8" y1="1298.8" x2="191.8" y2="1305.3" stroke="#45464c" stroke-width="1.6"/>
<text x="179.8" y="1338.1" font-size="24.5" fill="#4f525b" font-weight="normal" text-anchor="start" textLength="24.1" lengthAdjust="spacingAndGlyphs">25</text>
<line x1="392.0" y1="1298.8" x2="392.0" y2="1305.3" stroke="#45464c" stroke-width="1.6"/>
<text x="380.0" y="1338.1" font-size="24.5" fill="#4f525b" font-weight="normal" text-anchor="start" textLength="24.1" lengthAdjust="spacingAndGlyphs">28</text>
<line x1="659.0" y1="1298.8" x2="659.0" y2="1305.3" stroke="#45464c" stroke-width="1.6"/>
<text x="638.9" y="1338.1" font-size="24.5" fill="#4f525b" font-weight="bold" text-anchor="start" textLength="40.2" lengthAdjust="spacingAndGlyphs">Jun</text>
<line x1="859.2" y1="1298.8" x2="859.2" y2="1305.3" stroke="#45464c" stroke-width="1.6"/>
<text x="853.2" y="1338.1" font-size="24.5" fill="#4f525b" font-weight="normal" text-anchor="start" textLength="12.1" lengthAdjust="spacingAndGlyphs">4</text>
<line x1="1126.1" y1="1298.8" x2="1126.1" y2="1305.3" stroke="#45464c" stroke-width="1.6"/>
<text x="1120.1" y="1338.1" font-size="24.5" fill="#4f525b" font-weight="normal" text-anchor="start" textLength="12.1" lengthAdjust="spacingAndGlyphs">8</text>
<line x1="1326.3" y1="1298.8" x2="1326.3" y2="1305.3" stroke="#45464c" stroke-width="1.6"/>
<text x="1314.3" y="1338.1" font-size="24.5" fill="#4f525b" font-weight="normal" text-anchor="start" textLength="24.1" lengthAdjust="spacingAndGlyphs">11</text>
<line x1="1593.3" y1="1298.8" x2="1593.3" y2="1305.3" stroke="#45464c" stroke-width="1.6"/>
<text x="1581.2" y="1338.1" font-size="24.5" fill="#4f525b" font-weight="normal" text-anchor="start" textLength="24.1" lengthAdjust="spacingAndGlyphs">15</text>
<line x1="1793.5" y1="1298.8" x2="1793.5" y2="1305.3" stroke="#45464c" stroke-width="1.6"/>
<text x="1781.5" y="1338.1" font-size="24.5" fill="#4f525b" font-weight="normal" text-anchor="start" textLength="24.1" lengthAdjust="spacingAndGlyphs">18</text>
<line x1="2060.5" y1="1298.8" x2="2060.5" y2="1305.3" stroke="#45464c" stroke-width="1.6"/>
<text x="2048.4" y="1338.1" font-size="24.5" fill="#4f525b" font-weight="normal" text-anchor="start" textLength="24.1" lengthAdjust="spacingAndGlyphs">22</text>
<line x1="2260.7" y1="1298.8" x2="2260.7" y2="1305.3" stroke="#45464c" stroke-width="1.6"/>
<text x="2248.6" y="1338.1" font-size="24.5" fill="#4f525b" font-weight="normal" text-anchor="start" textLength="24.1" lengthAdjust="spacingAndGlyphs">25</text>
<line x1="2460.9" y1="1298.8" x2="2460.9" y2="1305.3" stroke="#45464c" stroke-width="1.6"/>
<text x="2448.8" y="1338.1" font-size="24.5" fill="#4f525b" font-weight="normal" text-anchor="start" textLength="24.1" lengthAdjust="spacingAndGlyphs">28</text>
<g>
<path d="M16,1409 L58,1409 C62,1409 64,1406 64,1402 C64,1396 61,1391 56,1389.5 C54,1387 51,1386.5 48,1387.3 C46,1382 41,1379 34,1379 C27,1379 23,1383 22,1388.5 C16,1388.5 12,1393 12,1399 C12,1405 14,1409 16,1409 Z" fill="#2196f3"/>
<polyline points="14.9,1404.8 31.6,1389.9 44,1401.8 56.4,1389.5" fill="none" stroke="#ffffff" stroke-width="2"/>
<circle cx="31.6" cy="1389.9" r="3.4" fill="#ffffff"/><circle cx="44" cy="1401.8" r="3.7" fill="#ffffff"/>
</g>
<text x="68.3" y="1401.8" font-size="25" fill="#131722" font-weight="normal" text-anchor="start" textLength="140.5" lengthAdjust="spacingAndGlyphs">TradingView</text>
</svg>
</body></html>
